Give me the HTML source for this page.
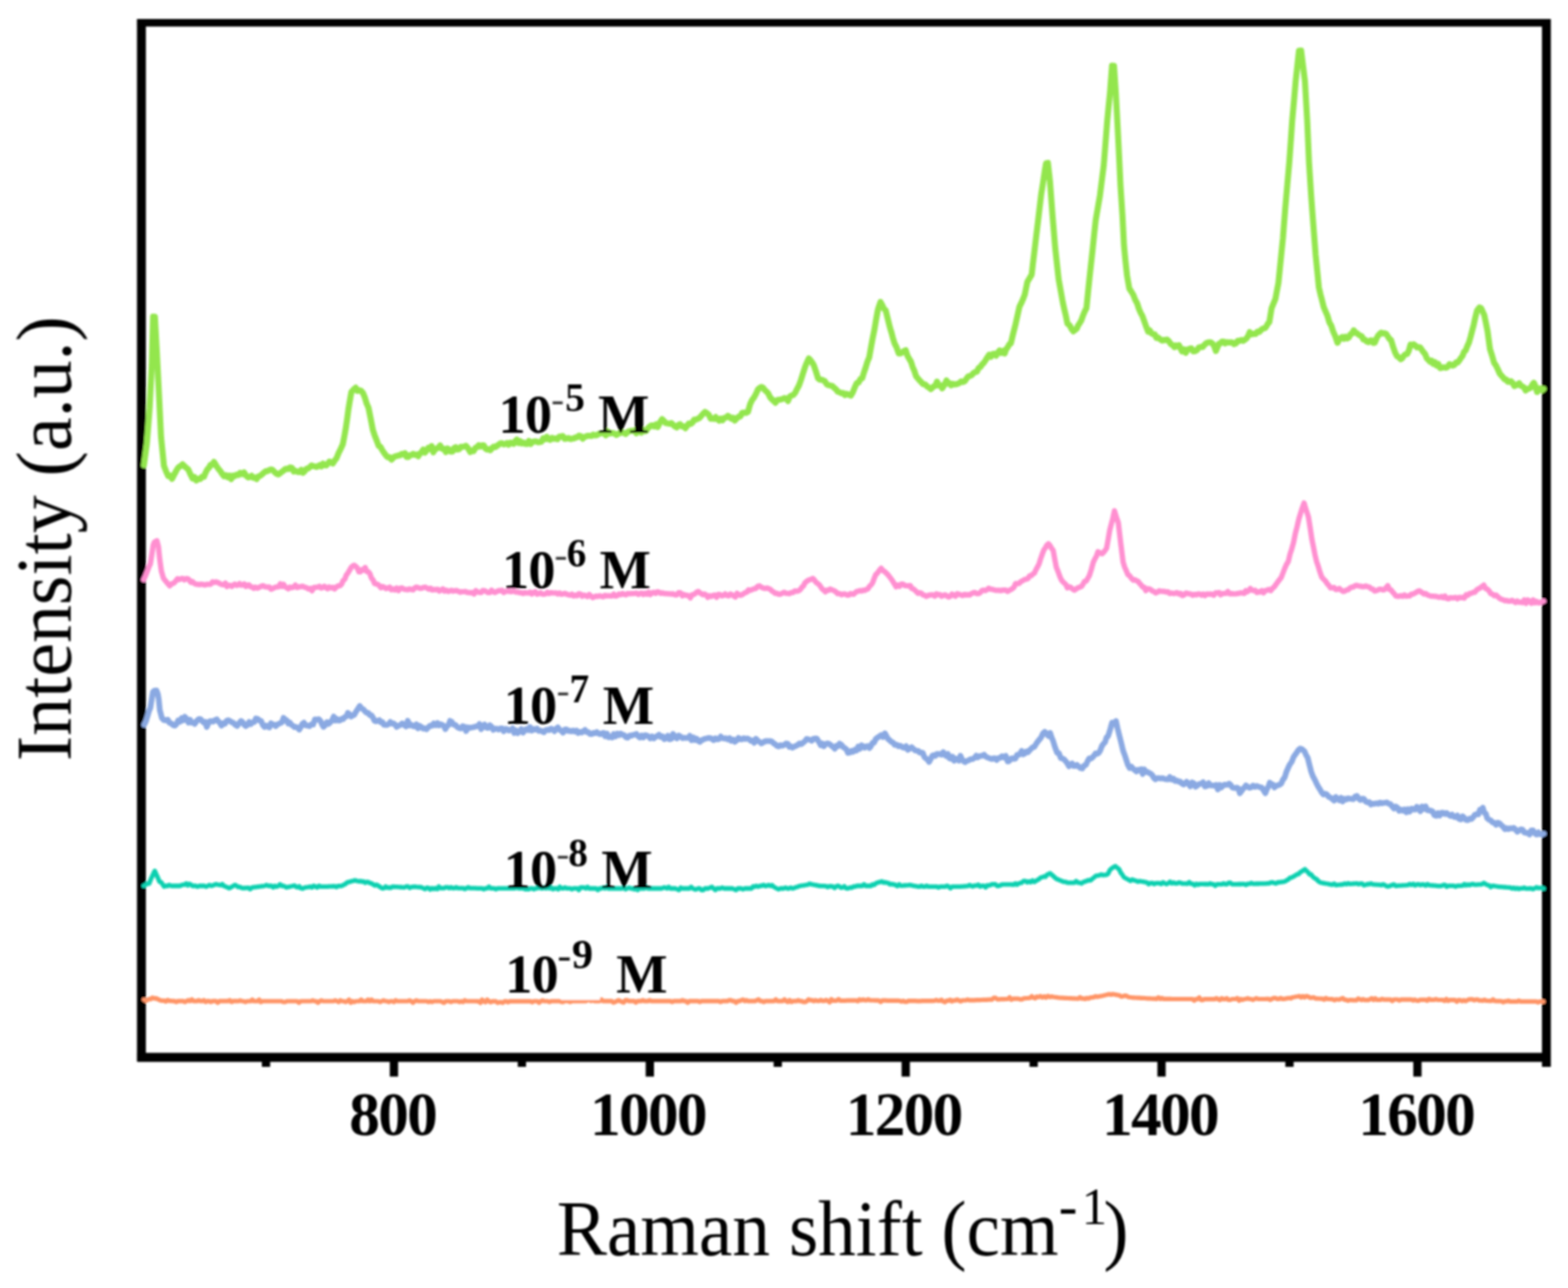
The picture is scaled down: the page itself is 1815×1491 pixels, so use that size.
<!DOCTYPE html>
<html lang="en"><head><meta charset="utf-8"><title>Raman spectra</title>
<style>html,body{margin:0;padding:0;background:#fff}body{width:1815px;height:1491px;overflow:hidden}svg{display:block}</style>
</head><body>
<svg width="1815" height="1491" viewBox="0 0 1815 1491" role="img" aria-label="Raman spectra at different concentrations">
<rect width="1815" height="1491" fill="#fff"/>
<defs><filter id="soft" x="-2%" y="-2%" width="104%" height="104%"><feGaussianBlur stdDeviation="0.8"/></filter></defs>
<g filter="url(#soft)">
<g stroke="#000" fill="none" stroke-linecap="butt">
<line x1="163.7" y1="22.0" x2="163.7" y2="1228.8" stroke-width="10.3"/>
<line x1="1790.0" y1="22.0" x2="1790.0" y2="1235" stroke-width="10.3"/>
<line x1="158.89999999999998" y1="26.4" x2="1794.8" y2="26.4" stroke-width="8.9"/>
<line x1="158.89999999999998" y1="1224.0" x2="1794.8" y2="1224.0" stroke-width="10.3"/>
<line x1="456.0" y1="1224.0" x2="456.0" y2="1246.3" stroke-width="9.6"/>
<line x1="752.2" y1="1224.0" x2="752.2" y2="1246.3" stroke-width="9.6"/>
<line x1="1048.4" y1="1224.0" x2="1048.4" y2="1246.3" stroke-width="9.6"/>
<line x1="1344.5" y1="1224.0" x2="1344.5" y2="1246.3" stroke-width="9.6"/>
<line x1="1640.7" y1="1224.0" x2="1640.7" y2="1246.3" stroke-width="9.6"/>
<line x1="307.9" y1="1224.0" x2="307.9" y2="1235" stroke-width="9.6"/>
<line x1="604.1" y1="1224.0" x2="604.1" y2="1235" stroke-width="9.6"/>
<line x1="900.3" y1="1224.0" x2="900.3" y2="1235" stroke-width="9.6"/>
<line x1="1196.5" y1="1224.0" x2="1196.5" y2="1235" stroke-width="9.6"/>
<line x1="1492.6" y1="1224.0" x2="1492.6" y2="1235" stroke-width="9.6"/>
</g>
<g fill="none" stroke-linejoin="round" stroke-linecap="round">
<path d="M166.6,538.5 L168.2,526.5 L169.9,514.1 L171.6,493.1 L173.2,472.3 L175.7,422.8 L177.2,366.6 L179.3,366.8 L181.5,406.2 L184.0,455.9 L186.4,505.7 L188.1,522.3 L189.8,539.3 L192.2,545.6 L194.7,551.1 L196.9,550.5 L199.1,554.3 L201.3,550.1 L203.2,546.5 L205.2,542.9 L207.1,540.5 L209.2,539.4 L211.3,537.5 L213.5,539.6 L215.7,541.6 L217.9,543.4 L220.4,549.0 L222.9,553.9 L225.1,552.3 L227.3,556.2 L229.5,554.2 L231.7,554.6 L233.9,551.8 L236.1,552.0 L238.0,547.1 L240.0,543.3 L241.9,541.5 L243.8,537.9 L245.8,538.1 L247.7,534.7 L250.2,538.9 L252.7,542.7 L254.9,545.1 L257.1,548.5 L259.3,551.3 L261.4,550.0 L263.5,552.4 L265.5,550.6 L267.6,554.6 L269.7,550.6 L271.8,551.2 L273.8,549.5 L275.9,549.9 L278.1,547.4 L280.3,548.9 L282.5,546.9 L285.0,550.7 L287.5,552.7 L289.4,552.2 L291.3,550.8 L293.2,553.2 L295.2,552.7 L297.1,554.5 L299.0,551.5 L301.1,550.9 L303.2,549.2 L305.3,547.3 L307.4,545.6 L309.4,545.5 L311.5,544.2 L313.6,543.4 L315.6,544.1 L317.8,546.4 L320.1,548.5 L322.3,549.3 L324.2,547.8 L326.2,546.2 L328.1,544.9 L330.0,543.1 L332.0,542.5 L333.9,543.0 L335.9,541.1 L338.0,541.7 L340.1,545.8 L342.1,544.9 L344.3,546.2 L346.6,546.4 L348.8,543.9 L350.8,547.2 L352.8,545.4 L354.7,542.6 L356.7,542.3 L358.7,540.6 L360.6,538.9 L362.5,539.6 L364.4,539.9 L366.3,540.5 L368.2,539.6 L370.1,538.4 L372.0,539.9 L373.9,536.7 L375.8,538.6 L377.7,538.8 L379.5,536.6 L381.4,534.3 L383.3,535.3 L385.2,536.5 L387.4,533.1 L389.6,530.3 L391.8,524.8 L394.3,519.7 L396.8,514.2 L398.5,505.6 L400.1,496.7 L401.8,485.2 L403.4,473.2 L405.0,463.7 L406.7,453.8 L409.2,451.0 L411.7,448.8 L413.8,452.5 L415.9,451.7 L417.9,452.4 L420.0,454.6 L422.2,459.8 L424.4,467.2 L426.6,472.2 L429.1,484.8 L431.6,497.7 L433.8,504.4 L436.1,510.1 L438.3,516.1 L440.4,517.3 L442.5,521.1 L444.5,524.1 L446.6,527.0 L448.8,529.3 L451.0,529.3 L453.2,532.0 L455.2,529.9 L457.2,528.4 L459.1,527.9 L461.1,527.3 L463.1,527.0 L465.0,525.4 L466.9,526.0 L468.8,524.6 L470.7,529.0 L472.6,529.0 L474.5,527.0 L476.4,526.8 L478.3,525.4 L480.3,526.6 L482.2,526.1 L484.1,528.1 L486.1,525.1 L488.0,523.3 L489.9,520.4 L491.9,523.9 L493.8,521.5 L495.7,518.5 L497.7,519.6 L499.6,516.3 L501.6,523.6 L503.6,520.1 L505.5,519.3 L507.5,518.1 L509.5,515.7 L511.7,519.6 L513.9,519.4 L516.1,523.3 L518.0,519.2 L519.9,520.4 L521.8,522.7 L523.7,522.8 L525.6,518.6 L527.5,517.7 L529.4,520.4 L531.4,520.0 L533.4,517.2 L535.3,517.2 L537.3,516.9 L539.3,516.1 L541.8,518.9 L544.3,523.3 L546.3,521.5 L548.3,522.1 L550.2,518.6 L552.2,517.5 L554.2,515.4 L556.1,516.9 L558.0,515.6 L559.9,515.4 L561.8,519.1 L563.7,520.4 L565.6,520.0 L567.5,521.1 L569.4,518.9 L571.4,517.1 L573.3,517.5 L575.2,516.3 L577.2,514.7 L579.1,513.3 L581.0,513.1 L583.0,514.4 L584.9,514.1 L586.8,512.8 L588.8,514.7 L590.7,512.5 L592.6,513.0 L594.5,513.8 L596.4,510.8 L598.2,509.0 L600.1,512.8 L602.0,510.6 L603.9,513.4 L606.0,512.4 L608.0,513.8 L610.1,514.0 L612.2,510.4 L614.3,513.9 L616.4,511.6 L618.4,511.0 L620.5,510.9 L622.6,512.0 L624.6,511.7 L626.7,511.3 L628.8,507.3 L630.9,508.4 L632.9,505.6 L635.0,508.4 L637.0,509.1 L639.1,506.9 L641.2,508.0 L643.2,507.6 L645.3,508.4 L647.4,505.5 L649.5,505.1 L651.5,504.8 L653.6,508.0 L655.8,507.7 L658.0,507.0 L660.2,508.3 L662.2,507.8 L664.2,507.5 L666.2,506.5 L668.2,506.0 L670.2,504.3 L672.3,504.9 L674.4,507.8 L676.4,506.0 L678.5,505.1 L680.6,504.4 L682.6,504.6 L684.7,504.7 L686.8,503.1 L688.8,504.0 L690.9,503.8 L693.0,502.2 L695.0,501.9 L697.1,501.4 L699.1,501.2 L701.2,503.9 L703.3,499.1 L705.4,502.0 L707.5,501.4 L709.5,501.2 L711.6,502.1 L713.7,503.5 L715.8,501.9 L717.9,501.4 L720.0,500.6 L722.1,501.1 L724.1,502.4 L726.2,500.4 L728.3,499.1 L730.4,498.8 L732.5,498.8 L734.5,498.2 L736.6,501.5 L738.5,500.1 L740.4,499.0 L742.3,500.9 L744.1,497.7 L746.0,499.2 L747.9,498.9 L749.8,495.8 L751.7,494.1 L753.7,492.6 L755.6,492.6 L757.5,493.7 L759.5,491.1 L761.4,494.3 L763.9,489.1 L766.4,485.2 L768.6,487.4 L770.8,489.8 L773.0,490.1 L775.1,490.6 L777.1,489.8 L779.2,491.8 L781.3,493.7 L783.3,494.8 L785.3,491.9 L787.2,491.1 L789.2,493.5 L791.2,493.5 L793.3,495.7 L795.4,492.9 L797.4,490.2 L799.5,490.8 L801.5,489.2 L803.5,485.7 L805.4,485.7 L807.4,484.9 L809.4,484.0 L811.6,481.7 L813.9,478.8 L816.1,476.9 L818.3,478.3 L820.5,480.2 L822.7,484.8 L824.6,484.2 L826.6,484.9 L828.5,482.8 L830.4,485.2 L832.4,487.0 L834.3,484.7 L836.4,486.5 L838.5,483.6 L840.5,483.3 L842.6,481.4 L844.6,482.7 L846.6,484.7 L848.5,483.6 L850.5,486.8 L852.5,484.7 L854.7,482.6 L856.9,482.0 L859.1,478.0 L861.3,477.6 L863.6,478.0 L865.8,476.7 L868.2,468.1 L870.7,462.8 L872.9,460.0 L875.2,455.6 L877.4,450.7 L879.5,449.0 L881.5,448.0 L883.4,448.9 L885.2,451.5 L887.1,453.2 L889.0,455.0 L891.2,459.6 L893.4,462.1 L895.6,464.2 L897.7,466.2 L899.8,462.9 L901.8,462.8 L903.9,462.3 L906.0,461.8 L908.0,460.7 L910.0,461.5 L912.1,464.2 L914.2,459.2 L916.2,457.8 L918.3,457.2 L920.4,454.8 L922.6,450.3 L924.9,446.0 L927.1,439.9 L929.5,432.3 L932.0,424.5 L934.1,419.3 L936.2,415.0 L938.1,417.0 L940.1,419.6 L942.0,422.8 L944.5,430.1 L946.9,437.9 L948.9,439.6 L950.9,439.6 L952.9,440.3 L954.9,441.4 L956.9,444.8 L959.1,445.9 L961.3,446.3 L963.5,446.8 L965.6,449.0 L967.6,450.5 L969.7,453.4 L971.8,454.0 L973.9,455.2 L976.0,454.9 L978.0,457.3 L980.1,455.9 L982.5,457.0 L985.0,457.9 L987.2,454.0 L989.5,448.2 L991.7,443.6 L993.8,442.8 L995.9,438.8 L998.0,437.9 L1000.0,431.3 L1002.0,425.5 L1004.1,418.5 L1006.1,413.8 L1008.1,402.6 L1010.1,391.7 L1012.1,382.0 L1014.2,369.4 L1016.2,358.5 L1017.7,353.9 L1019.2,349.6 L1021.2,353.2 L1023.2,357.4 L1025.2,359.1 L1027.7,369.4 L1030.2,379.5 L1031.9,384.9 L1033.6,391.4 L1035.3,397.1 L1037.8,402.1 L1040.3,409.2 L1042.3,409.1 L1044.3,408.0 L1046.4,406.4 L1048.4,405.5 L1050.4,411.8 L1052.4,415.4 L1054.4,418.5 L1056.4,424.8 L1058.4,429.4 L1060.4,435.6 L1062.4,438.0 L1064.5,440.4 L1066.5,442.5 L1068.5,444.8 L1070.8,444.9 L1073.0,447.2 L1075.2,448.6 L1077.5,450.4 L1079.2,448.9 L1080.9,447.2 L1082.6,446.6 L1084.6,441.8 L1086.6,446.2 L1088.6,445.9 L1090.6,449.5 L1093.1,445.6 L1095.6,440.5 L1097.4,443.9 L1099.2,443.5 L1100.9,446.1 L1102.7,444.2 L1104.7,445.1 L1106.7,444.7 L1108.7,444.3 L1110.7,443.2 L1112.7,441.5 L1114.7,442.3 L1116.8,441.1 L1118.8,438.3 L1120.8,435.6 L1122.8,435.3 L1124.8,434.2 L1126.8,431.9 L1128.8,430.6 L1130.8,430.2 L1132.8,426.0 L1134.9,424.7 L1136.9,421.8 L1138.9,419.9 L1140.9,416.9 L1142.9,413.7 L1144.9,410.7 L1146.9,413.1 L1148.9,410.0 L1151.0,409.5 L1153.0,411.8 L1155.0,408.3 L1157.0,405.7 L1159.0,408.5 L1161.0,406.3 L1163.0,409.1 L1164.8,403.9 L1166.5,401.9 L1168.3,398.6 L1170.1,397.5 L1172.6,386.9 L1175.1,377.2 L1177.6,366.0 L1180.1,354.8 L1182.1,351.0 L1184.2,346.3 L1186.2,341.0 L1187.7,333.6 L1189.2,326.3 L1191.7,322.1 L1194.2,317.9 L1195.7,304.7 L1197.2,292.5 L1199.2,275.4 L1201.3,258.2 L1203.3,241.2 L1205.3,224.2 L1207.3,211.7 L1209.3,198.2 L1210.9,188.9 L1213.0,188.6 L1215.4,210.2 L1216.9,230.3 L1218.4,250.3 L1219.9,268.4 L1221.4,286.7 L1223.4,305.0 L1225.4,323.1 L1227.9,337.1 L1230.4,351.0 L1232.1,358.6 L1233.8,365.8 L1235.5,374.4 L1238.0,376.4 L1240.5,381.0 L1242.5,383.5 L1244.5,382.0 L1246.3,380.6 L1248.0,376.7 L1249.8,374.1 L1251.6,371.0 L1253.6,365.3 L1255.6,360.5 L1257.6,356.7 L1259.3,339.6 L1261.0,323.1 L1262.8,306.7 L1264.6,290.1 L1266.4,272.7 L1268.3,254.9 L1270.8,240.4 L1273.2,226.3 L1275.4,208.9 L1277.6,191.7 L1279.6,166.3 L1281.6,140.5 L1283.2,123.9 L1284.9,106.9 L1287.2,76.0 L1289.5,76.2 L1291.6,107.2 L1293.7,147.3 L1295.7,187.5 L1297.0,215.0 L1299.3,249.7 L1301.1,284.7 L1302.8,302.3 L1304.6,319.0 L1307.2,334.0 L1309.5,337.5 L1311.8,341.3 L1314.1,347.2 L1316.1,350.7 L1318.2,357.2 L1320.2,361.9 L1322.4,365.9 L1324.6,372.1 L1326.8,378.3 L1329.0,383.9 L1330.9,382.4 L1332.8,385.7 L1334.7,386.9 L1336.6,386.9 L1338.5,391.1 L1340.2,390.5 L1342.0,391.9 L1343.8,393.5 L1345.5,394.2 L1347.3,393.5 L1349.0,393.7 L1350.8,393.1 L1353.1,395.2 L1355.4,398.4 L1357.7,399.9 L1359.5,401.9 L1361.2,399.9 L1363.0,401.0 L1364.7,399.6 L1366.5,403.2 L1368.2,406.8 L1370.4,404.4 L1372.6,408.4 L1374.7,404.6 L1376.9,403.9 L1379.1,403.2 L1381.2,406.7 L1383.4,406.6 L1385.6,405.3 L1387.8,402.1 L1389.9,401.7 L1392.1,401.7 L1394.3,399.1 L1396.0,397.5 L1397.8,396.6 L1399.5,396.2 L1401.3,396.2 L1403.3,397.6 L1405.4,400.3 L1407.4,406.3 L1409.2,402.2 L1410.9,397.8 L1412.7,397.4 L1414.4,395.4 L1416.4,395.5 L1418.3,397.5 L1420.2,396.1 L1422.2,396.5 L1424.3,396.3 L1426.4,396.5 L1428.5,398.4 L1430.6,397.5 L1432.7,394.4 L1434.9,394.8 L1437.1,393.5 L1439.2,394.6 L1441.4,392.9 L1443.1,391.5 L1444.9,388.6 L1446.6,384.5 L1448.8,387.0 L1451.0,386.5 L1453.2,386.6 L1455.4,384.1 L1457.6,384.3 L1459.8,381.9 L1461.9,380.4 L1464.1,379.9 L1465.8,377.9 L1467.6,374.7 L1469.3,372.8 L1471.9,356.8 L1474.1,351.4 L1476.3,346.1 L1478.0,336.9 L1479.8,327.6 L1482.4,301.8 L1485.0,276.0 L1487.8,240.3 L1490.1,214.0 L1492.4,187.6 L1494.1,164.1 L1495.7,140.4 L1497.8,117.1 L1499.8,93.6 L1501.7,76.1 L1503.6,58.8 L1506.1,58.6 L1508.3,76.3 L1510.5,93.9 L1513.2,140.7 L1515.2,187.6 L1517.8,228.0 L1520.0,257.3 L1522.9,295.1 L1524.8,314.0 L1526.6,332.4 L1528.5,340.8 L1530.3,347.6 L1532.2,355.4 L1534.4,360.6 L1536.6,365.7 L1538.8,373.3 L1541.0,377.0 L1543.2,383.9 L1545.4,388.7 L1548.2,396.8 L1550.1,393.3 L1551.9,391.2 L1553.8,390.1 L1555.7,392.2 L1557.6,389.9 L1559.5,391.8 L1561.4,390.6 L1563.2,387.0 L1565.1,386.1 L1567.0,382.4 L1568.9,385.0 L1570.7,385.8 L1572.6,387.4 L1574.5,388.6 L1576.3,389.3 L1578.2,393.1 L1580.1,393.3 L1582.0,395.3 L1583.9,396.1 L1585.8,394.5 L1587.7,394.0 L1589.5,396.9 L1591.4,396.7 L1593.3,391.9 L1595.1,388.7 L1597.0,386.6 L1598.9,385.1 L1600.8,386.0 L1602.7,385.8 L1604.6,386.5 L1606.5,389.5 L1608.3,392.2 L1610.2,393.8 L1612.6,401.6 L1614.9,408.2 L1617.1,412.4 L1619.2,413.5 L1621.4,415.8 L1623.3,414.5 L1625.2,411.5 L1627.0,410.1 L1628.9,409.8 L1630.8,405.9 L1632.7,398.8 L1634.6,399.6 L1636.4,398.6 L1638.3,400.0 L1640.2,402.2 L1642.0,401.8 L1643.9,402.2 L1645.8,404.9 L1647.7,407.7 L1649.6,409.8 L1651.5,414.7 L1653.4,416.6 L1655.3,418.8 L1657.1,417.5 L1659.0,421.2 L1660.8,419.2 L1662.7,423.0 L1664.8,421.3 L1667.0,426.1 L1669.1,425.7 L1671.2,425.2 L1673.4,425.7 L1675.6,424.7 L1677.8,421.6 L1679.7,422.1 L1681.5,423.2 L1683.4,422.5 L1685.3,419.6 L1687.2,419.6 L1689.0,417.5 L1690.9,414.6 L1692.8,412.2 L1694.7,407.3 L1696.5,405.7 L1698.4,400.8 L1700.3,396.7 L1702.2,390.1 L1704.0,383.1 L1705.9,375.8 L1707.8,367.1 L1709.7,359.5 L1712.5,355.8 L1714.4,356.9 L1716.2,360.6 L1718.1,364.8 L1720.0,374.0 L1721.9,383.5 L1724.7,404.2 L1727.1,411.6 L1729.4,419.9 L1731.6,423.0 L1733.8,427.5 L1736.0,432.5 L1737.9,434.8 L1739.8,436.7 L1741.6,439.2 L1743.5,439.2 L1745.4,442.0 L1747.3,442.1 L1749.1,441.3 L1751.0,443.3 L1752.9,446.9 L1754.8,446.1 L1756.6,445.3 L1758.5,443.7 L1760.3,446.5 L1762.2,447.2 L1764.1,448.6 L1766.0,452.0 L1767.8,450.2 L1769.7,450.0 L1771.6,449.0 L1773.5,445.8 L1775.4,443.1 L1777.3,446.8 L1779.2,453.8 L1781.1,450.1 L1783.0,449.6 L1784.8,451.8 L1786.7,450.1" stroke="#93e64e" stroke-width="7.0"/>
<path d="M166.3,671.0 L168.4,666.5 L170.5,661.2 L172.3,656.6 L174.1,652.5 L176.0,640.2 L177.4,630.9 L178.8,627.4 L181.6,626.0 L183.4,632.7 L184.8,646.8 L186.8,661.2 L189.2,669.4 L191.3,672.1 L193.5,674.7 L195.0,676.5 L196.5,678.1 L198.9,675.7 L201.3,675.0 L203.4,672.7 L205.5,670.0 L207.4,670.9 L209.4,670.0 L211.3,669.5 L213.3,671.3 L215.2,669.8 L217.1,669.8 L218.9,671.2 L220.8,674.1 L222.7,673.2 L224.5,675.0 L226.4,676.1 L228.6,676.4 L230.8,676.8 L232.9,676.2 L235.1,676.6 L237.3,677.2 L239.5,676.3 L241.7,676.5 L243.8,676.4 L246.0,673.6 L248.2,674.2 L250.4,673.6 L252.6,674.5 L254.7,675.7 L256.9,676.7 L259.1,677.0 L260.9,675.0 L262.7,679.0 L264.6,677.6 L266.4,677.5 L268.2,678.9 L270.0,677.3 L271.8,676.2 L273.7,677.6 L275.5,677.2 L277.3,675.6 L279.1,677.4 L280.9,677.2 L282.8,675.9 L284.6,678.8 L286.4,677.6 L288.2,677.1 L290.0,679.2 L291.9,679.6 L293.7,681.0 L295.5,679.6 L297.8,680.9 L300.0,679.9 L302.2,678.8 L304.5,678.0 L306.3,679.1 L308.1,679.4 L310.0,679.6 L311.8,679.5 L313.6,682.1 L315.8,681.3 L318.0,680.1 L320.1,679.5 L322.3,679.4 L324.5,675.8 L326.3,678.8 L328.2,676.5 L330.0,679.4 L331.8,680.4 L333.7,681.5 L335.5,679.6 L337.6,680.3 L339.7,679.7 L341.9,677.4 L344.0,680.2 L346.1,679.3 L348.2,679.2 L350.4,678.6 L352.6,679.8 L354.7,680.3 L356.9,681.8 L359.1,681.2 L361.2,683.9 L363.3,680.0 L365.5,679.8 L367.6,679.7 L369.7,678.7 L371.8,680.7 L373.6,680.1 L375.4,678.7 L377.3,680.3 L379.1,681.6 L380.9,679.5 L383.0,680.6 L385.1,679.8 L387.2,681.7 L389.4,679.5 L391.5,678.3 L393.6,677.9 L395.4,676.2 L397.2,672.1 L399.1,670.5 L400.9,665.6 L402.7,663.3 L404.6,660.2 L406.4,656.9 L408.2,655.3 L410.0,654.3 L411.8,655.7 L413.7,657.7 L415.5,662.0 L417.3,661.8 L419.1,659.4 L420.9,659.9 L422.7,657.0 L424.5,661.6 L426.4,661.9 L428.2,664.2 L430.0,669.2 L431.8,671.3 L433.6,675.5 L435.4,675.9 L437.2,676.4 L439.1,678.0 L440.9,680.3 L442.9,679.0 L444.9,679.9 L447.0,681.3 L449.0,680.7 L451.0,679.8 L453.0,682.7 L455.1,681.6 L457.1,683.0 L459.1,680.8 L461.3,683.7 L463.5,680.9 L465.6,680.7 L467.8,682.2 L470.0,682.4 L472.0,682.7 L474.0,681.6 L476.1,682.4 L478.1,682.8 L480.1,680.6 L482.1,679.7 L484.2,680.3 L486.2,681.1 L488.2,680.9 L490.2,680.0 L492.2,679.7 L494.3,680.9 L496.3,682.1 L498.3,680.9 L500.3,683.0 L502.4,682.4 L504.4,682.7 L506.4,682.1 L508.4,684.2 L510.4,683.1 L512.5,681.8 L514.5,684.2 L516.5,683.1 L518.5,684.7 L520.5,684.0 L522.5,683.4 L524.5,684.3 L526.6,683.8 L528.6,683.7 L530.6,684.6 L532.6,685.6 L534.6,685.0 L536.7,685.0 L538.7,684.7 L540.7,685.9 L542.7,685.8 L544.7,686.4 L546.7,685.8 L548.8,687.5 L550.8,683.8 L552.8,685.2 L554.8,685.7 L556.9,686.0 L558.9,683.6 L560.9,683.8 L562.9,684.9 L564.9,686.0 L567.0,686.0 L569.0,683.3 L571.0,684.9 L573.0,685.9 L575.1,684.7 L577.1,683.6 L579.1,683.8 L581.1,683.3 L583.1,685.9 L585.2,684.6 L587.2,684.5 L589.2,684.2 L591.2,685.0 L593.3,684.4 L595.3,684.4 L597.3,685.5 L599.3,685.4 L601.3,686.2 L603.4,686.0 L605.4,687.1 L607.4,686.0 L609.4,686.4 L611.5,686.5 L613.5,685.5 L615.5,687.6 L617.5,685.9 L619.5,685.0 L621.5,687.8 L623.6,687.3 L625.6,686.1 L627.6,687.7 L629.6,687.8 L631.6,687.5 L633.6,685.7 L635.7,687.1 L637.7,686.0 L639.7,686.4 L641.7,686.5 L643.7,686.3 L645.8,687.7 L647.8,686.5 L649.8,687.9 L651.8,687.5 L653.8,686.9 L655.8,687.8 L657.9,688.5 L659.9,689.0 L661.9,687.8 L663.9,689.9 L666.0,688.9 L668.0,689.7 L670.0,687.4 L672.0,687.8 L674.0,690.2 L676.1,688.9 L678.1,689.7 L680.1,690.6 L682.1,688.2 L684.2,690.2 L686.2,691.8 L688.2,690.8 L690.2,690.0 L692.2,690.4 L694.2,689.7 L696.3,690.4 L698.3,690.8 L700.3,689.2 L702.3,689.9 L704.3,689.5 L706.4,689.9 L708.4,689.9 L710.4,687.9 L712.4,690.0 L714.4,689.6 L716.4,687.6 L718.5,688.3 L720.5,687.0 L722.5,688.1 L724.5,688.6 L726.5,687.0 L728.5,687.3 L730.6,687.1 L732.6,687.2 L734.6,687.0 L736.6,686.6 L738.7,688.1 L740.7,687.2 L742.7,686.5 L744.7,688.2 L746.7,686.6 L748.8,687.9 L750.8,685.7 L752.8,688.2 L754.8,686.3 L756.9,685.7 L758.9,686.9 L760.9,685.1 L762.9,685.5 L764.9,686.9 L767.0,686.3 L769.0,687.2 L771.0,687.1 L773.0,687.3 L775.1,687.3 L777.1,687.9 L779.1,687.3 L781.3,688.6 L783.5,688.6 L785.6,686.0 L787.8,686.4 L790.0,689.7 L791.8,688.2 L793.6,689.1 L795.5,689.2 L797.3,689.9 L799.1,692.1 L800.9,688.6 L802.7,688.3 L804.6,687.3 L806.4,685.6 L808.2,684.7 L810.0,686.2 L811.8,687.3 L813.7,688.5 L815.5,687.6 L817.3,688.6 L819.3,691.5 L821.3,689.7 L823.4,690.5 L825.4,689.2 L827.4,688.8 L829.4,691.5 L831.5,688.1 L833.5,688.4 L835.5,689.8 L837.5,689.2 L839.4,687.5 L841.4,689.3 L843.4,689.9 L845.3,687.6 L847.3,688.6 L849.3,689.9 L851.2,691.1 L853.2,686.8 L855.2,688.4 L857.1,689.2 L859.1,688.4 L860.9,687.1 L862.8,686.0 L864.6,685.4 L866.4,682.8 L868.5,683.4 L870.6,682.5 L872.8,681.6 L874.9,681.3 L877.0,678.7 L879.1,678.2 L881.3,679.8 L883.5,680.7 L885.6,681.2 L887.8,680.7 L890.0,681.5 L891.8,682.3 L893.6,684.3 L895.5,685.3 L897.3,686.9 L899.3,686.9 L901.4,687.9 L903.4,687.8 L905.5,686.8 L907.5,685.7 L909.5,686.6 L911.6,687.0 L913.6,687.2 L915.7,686.0 L917.9,685.9 L920.0,684.0 L922.1,684.5 L924.3,684.0 L926.4,682.5 L928.2,679.8 L930.0,678.4 L931.8,674.7 L933.6,673.2 L935.4,671.8 L937.2,671.1 L939.1,670.5 L940.9,669.6 L942.7,671.5 L944.6,674.2 L946.4,675.4 L948.2,676.7 L950.0,679.3 L951.8,681.9 L953.6,683.3 L955.4,685.1 L957.2,683.2 L959.1,683.5 L960.9,681.9 L963.1,682.8 L965.3,683.8 L967.4,685.0 L969.6,687.2 L971.8,687.1 L974.0,688.5 L976.2,687.7 L978.3,687.5 L980.5,688.9 L982.7,688.8 L984.5,687.1 L986.3,687.7 L988.2,687.9 L990.0,686.1 L991.8,684.5 L993.6,684.5 L995.4,683.7 L997.3,684.2 L999.1,683.2 L1000.9,683.5 L1002.7,682.4 L1004.5,681.8 L1006.4,678.8 L1008.2,677.2 L1010.0,674.7 L1011.8,669.9 L1013.6,665.3 L1015.7,663.4 L1017.9,660.1 L1020.0,657.9 L1022.0,660.5 L1024.1,661.7 L1026.2,663.8 L1028.2,665.8 L1030.0,668.1 L1031.8,670.5 L1033.7,673.4 L1035.5,676.4 L1037.3,679.2 L1039.4,677.3 L1041.4,678.7 L1043.5,676.0 L1045.6,676.4 L1047.7,678.0 L1049.7,678.0 L1051.8,678.4 L1053.6,677.8 L1055.4,681.2 L1057.3,681.7 L1059.1,683.3 L1060.9,685.1 L1062.7,686.9 L1064.6,686.2 L1066.4,686.8 L1068.2,688.6 L1070.2,689.0 L1072.2,690.3 L1074.1,689.5 L1076.1,688.8 L1078.1,688.6 L1080.1,688.7 L1082.1,690.1 L1084.1,687.5 L1086.0,688.4 L1088.0,688.3 L1090.0,690.3 L1092.0,689.3 L1094.0,688.5 L1096.0,689.9 L1098.0,691.1 L1100.0,690.2 L1102.0,687.8 L1104.0,688.9 L1106.0,690.3 L1108.0,687.3 L1110.0,687.9 L1112.0,688.6 L1114.1,689.4 L1116.2,688.0 L1118.2,688.8 L1120.2,688.4 L1122.3,688.8 L1124.4,687.2 L1126.4,686.2 L1128.4,685.8 L1130.4,687.1 L1132.4,687.2 L1134.4,686.2 L1136.5,683.8 L1138.5,683.1 L1140.5,683.7 L1142.5,682.6 L1144.5,681.0 L1146.5,682.2 L1148.5,682.1 L1150.4,682.8 L1152.4,683.4 L1154.4,683.3 L1156.3,683.4 L1158.3,683.8 L1160.3,683.2 L1162.3,683.0 L1164.2,683.1 L1166.2,684.7 L1168.2,683.4 L1170.0,682.5 L1171.8,681.5 L1173.7,679.9 L1175.5,675.7 L1177.3,675.6 L1179.5,675.4 L1181.7,673.3 L1183.8,672.2 L1186.0,670.7 L1188.2,670.4 L1190.0,669.5 L1191.8,666.7 L1193.7,666.5 L1195.5,664.5 L1197.3,663.6 L1199.1,659.5 L1200.9,656.4 L1202.7,652.8 L1204.5,647.0 L1206.4,641.6 L1208.2,636.8 L1210.0,634.3 L1211.8,631.1 L1213.6,629.5 L1215.4,631.6 L1217.3,634.9 L1219.1,637.2 L1220.9,647.2 L1222.7,656.6 L1224.5,661.0 L1226.4,666.3 L1228.2,670.6 L1230.0,673.1 L1231.8,674.9 L1233.7,676.5 L1235.5,680.5 L1237.5,679.3 L1239.5,679.9 L1241.6,681.9 L1243.6,683.2 L1245.6,681.8 L1247.7,680.4 L1249.8,679.7 L1251.8,678.8 L1253.6,676.4 L1255.4,673.0 L1257.3,672.7 L1259.1,669.5 L1260.9,666.5 L1263.2,659.4 L1265.5,650.9 L1267.3,647.1 L1269.1,643.9 L1270.9,638.7 L1273.2,640.0 L1275.5,641.0 L1277.3,639.5 L1279.1,637.3 L1280.9,634.6 L1282.7,624.5 L1284.5,614.0 L1286.3,607.0 L1288.2,599.7 L1290.0,591.4 L1292.2,598.5 L1294.5,605.3 L1297.3,629.1 L1300.0,650.6 L1301.8,656.5 L1303.7,660.6 L1305.5,665.2 L1307.6,666.5 L1309.7,669.5 L1311.8,671.6 L1313.6,671.0 L1315.5,672.3 L1317.3,672.9 L1319.1,675.3 L1320.9,677.2 L1322.7,679.6 L1324.5,679.9 L1326.3,683.7 L1328.1,681.6 L1330.0,681.6 L1331.8,682.3 L1333.6,684.0 L1335.6,684.6 L1337.7,686.4 L1339.8,685.5 L1341.8,683.9 L1343.8,684.5 L1345.9,684.6 L1348.0,684.7 L1350.0,685.4 L1352.1,685.2 L1354.1,687.1 L1356.2,686.6 L1358.3,687.1 L1360.4,686.7 L1362.4,686.0 L1364.5,687.7 L1366.5,687.0 L1368.5,689.4 L1370.6,688.8 L1372.6,686.5 L1374.6,686.9 L1376.6,687.4 L1378.7,687.8 L1380.7,689.2 L1382.7,688.0 L1384.7,688.6 L1386.7,687.7 L1388.8,687.7 L1390.8,689.0 L1392.8,687.7 L1394.8,689.5 L1396.9,687.5 L1398.9,687.8 L1400.9,687.7 L1402.9,687.9 L1404.9,689.0 L1407.0,686.4 L1409.0,686.4 L1411.0,685.9 L1413.0,688.5 L1415.1,687.1 L1417.1,687.0 L1419.1,686.9 L1421.3,684.9 L1423.5,687.5 L1425.6,687.1 L1427.8,687.5 L1430.0,687.5 L1432.0,687.1 L1434.1,686.9 L1436.1,686.3 L1438.2,686.4 L1440.2,686.9 L1442.0,683.8 L1443.8,685.0 L1445.5,683.8 L1447.3,681.3 L1449.2,683.3 L1451.0,683.6 L1452.9,683.4 L1454.8,685.8 L1456.6,685.1 L1458.5,685.3 L1460.5,683.7 L1462.6,686.1 L1464.6,683.8 L1466.7,683.3 L1468.7,682.3 L1470.8,683.7 L1472.8,681.2 L1474.8,679.6 L1476.9,676.6 L1478.9,673.9 L1481.0,671.1 L1483.0,668.7 L1485.0,663.5 L1487.1,658.0 L1489.2,653.2 L1491.2,650.1 L1493.2,641.6 L1495.3,635.2 L1497.3,628.2 L1499.3,617.9 L1501.4,609.8 L1503.4,601.0 L1505.4,594.4 L1507.5,587.8 L1509.5,582.3 L1511.2,588.4 L1512.9,593.2 L1514.6,598.7 L1516.7,612.0 L1518.7,625.2 L1520.4,633.4 L1522.1,642.1 L1523.8,649.4 L1525.8,655.2 L1527.9,662.3 L1529.9,667.9 L1531.9,670.3 L1534.0,672.2 L1536.0,675.3 L1538.1,677.6 L1540.1,680.6 L1542.1,680.5 L1544.2,680.1 L1546.2,682.3 L1548.2,682.3 L1550.3,681.2 L1552.3,683.1 L1554.4,684.6 L1556.4,684.4 L1558.4,683.1 L1560.5,682.8 L1562.5,680.8 L1564.5,679.7 L1566.6,679.6 L1568.6,678.1 L1570.6,677.6 L1572.7,678.4 L1574.8,678.5 L1576.8,679.2 L1578.9,679.2 L1580.9,678.3 L1582.9,679.2 L1585.0,679.5 L1587.0,681.4 L1589.1,682.0 L1591.1,684.1 L1593.0,683.7 L1594.9,683.1 L1596.8,682.1 L1598.8,682.1 L1600.7,682.8 L1602.6,682.6 L1604.5,680.2 L1606.4,678.0 L1608.3,682.4 L1610.1,682.7 L1612.0,685.4 L1613.9,687.4 L1615.7,689.8 L1617.6,690.4 L1619.6,690.2 L1621.7,689.6 L1623.7,690.3 L1625.7,688.7 L1627.8,690.2 L1629.8,689.8 L1631.7,689.9 L1633.6,687.8 L1635.5,687.6 L1637.3,686.8 L1639.2,685.9 L1641.1,684.4 L1643.0,683.9 L1644.8,685.3 L1646.7,686.4 L1648.5,687.6 L1650.4,687.1 L1652.2,688.6 L1654.2,689.4 L1656.3,690.1 L1658.3,690.0 L1660.4,690.4 L1662.4,690.4 L1664.5,691.2 L1666.5,691.4 L1668.6,690.5 L1670.6,691.9 L1672.6,690.1 L1674.7,692.8 L1676.7,693.1 L1678.7,691.8 L1680.8,692.2 L1682.8,692.1 L1684.9,691.6 L1686.9,693.2 L1688.9,691.5 L1691.0,691.9 L1693.0,691.5 L1695.0,692.3 L1697.1,688.5 L1699.1,689.1 L1701.1,687.1 L1703.2,686.7 L1705.2,685.7 L1707.2,685.6 L1709.3,682.9 L1711.3,681.6 L1713.4,680.7 L1715.5,678.9 L1717.5,677.3 L1719.5,681.2 L1721.5,681.9 L1723.6,683.9 L1725.6,687.3 L1727.6,687.7 L1729.7,689.6 L1731.8,688.8 L1733.8,690.9 L1735.9,692.7 L1737.9,693.7 L1739.9,694.4 L1742.0,695.3 L1744.0,695.1 L1746.0,695.9 L1748.1,695.9 L1750.1,694.9 L1752.1,696.1 L1754.2,697.5 L1756.2,695.7 L1758.2,697.1 L1760.3,697.0 L1762.3,697.6 L1764.4,694.6 L1766.4,698.4 L1768.4,694.5 L1770.5,695.9 L1772.5,698.3 L1774.6,694.4 L1776.6,697.8 L1778.6,696.1 L1780.7,697.8 L1782.7,697.6 L1784.8,696.6 L1786.8,695.9" stroke="#ff8fd0" stroke-width="6.2"/>
<path d="M166.9,839.0 L169.0,834.7 L171.1,827.8 L172.6,822.7 L174.1,819.3 L175.8,808.2 L177.0,801.2 L178.6,799.6 L181.2,799.4 L182.8,803.7 L183.8,810.0 L185.0,822.1 L187.4,831.1 L189.8,833.6 L192.2,834.0 L194.2,833.1 L196.3,836.9 L198.3,837.4 L200.3,839.4 L202.3,840.0 L204.3,838.2 L206.3,833.9 L208.4,835.4 L210.4,831.3 L212.2,833.9 L214.0,829.8 L216.1,832.4 L218.2,836.6 L220.0,833.2 L221.8,836.6 L223.6,836.2 L225.4,838.0 L227.9,834.3 L230.3,832.3 L232.1,832.5 L233.9,834.6 L235.7,836.3 L237.5,835.6 L239.3,841.5 L241.1,837.7 L242.9,834.8 L244.8,834.8 L246.6,835.4 L249.1,833.5 L250.9,832.7 L252.8,835.2 L254.6,837.0 L256.4,840.0 L258.4,837.2 L260.4,837.8 L262.4,834.4 L264.4,833.7 L266.4,834.8 L268.4,836.2 L270.4,836.9 L272.5,839.2 L274.5,840.4 L276.8,837.1 L279.1,834.6 L280.9,836.0 L282.7,839.0 L284.5,840.5 L286.5,839.2 L288.4,835.7 L290.4,838.1 L292.3,836.4 L294.3,835.9 L296.2,831.6 L298.2,832.1 L300.2,834.0 L302.2,834.4 L304.2,839.3 L306.2,841.5 L308.2,840.0 L310.0,841.4 L311.8,842.0 L313.7,837.2 L315.5,838.9 L317.3,838.9 L319.1,840.6 L320.9,838.8 L322.7,837.9 L324.5,837.1 L326.4,836.1 L328.2,831.0 L330.0,833.0 L331.8,833.6 L333.7,837.6 L335.5,836.5 L337.3,839.1 L339.1,840.1 L340.9,841.7 L342.8,841.6 L344.6,842.4 L346.4,844.6 L348.2,841.5 L350.0,837.9 L351.8,836.6 L353.9,839.8 L356.1,840.0 L358.2,840.6 L360.3,838.5 L362.4,838.8 L364.5,832.8 L366.8,833.2 L369.1,832.5 L370.9,834.4 L372.7,838.5 L374.5,841.4 L376.5,839.4 L378.5,835.9 L380.5,837.9 L382.5,836.0 L384.5,833.6 L386.3,829.5 L388.1,834.1 L390.0,832.3 L391.8,834.1 L393.6,833.9 L395.4,832.1 L397.2,832.5 L399.1,829.9 L400.9,829.6 L402.7,825.2 L404.5,826.7 L406.4,829.5 L408.2,828.4 L410.0,827.5 L412.1,823.9 L414.3,820.5 L416.4,817.3 L418.5,820.0 L420.6,821.2 L422.7,823.7 L424.5,825.1 L426.4,825.3 L428.2,827.9 L430.0,828.1 L431.8,830.8 L433.6,834.4 L435.4,835.0 L437.2,834.3 L439.1,833.7 L440.9,836.3 L442.7,835.9 L444.5,839.0 L446.4,839.2 L448.2,839.1 L450.0,838.0 L451.8,835.8 L453.6,837.7 L455.5,837.4 L457.3,838.7 L459.1,841.5 L461.3,840.2 L463.5,839.1 L465.6,837.4 L467.8,839.1 L470.0,840.9 L472.0,834.4 L474.0,839.8 L476.0,838.9 L478.0,840.6 L480.0,841.0 L481.9,838.4 L483.9,843.1 L485.8,840.3 L487.8,841.5 L489.7,843.4 L491.7,843.0 L493.6,844.2 L495.7,841.9 L497.9,840.0 L500.0,840.2 L502.1,837.5 L504.3,839.5 L506.4,837.0 L508.2,839.7 L510.0,838.3 L511.9,839.0 L513.7,840.4 L515.5,844.1 L517.3,840.7 L519.1,839.5 L520.9,834.5 L523.0,835.7 L525.1,839.0 L527.2,839.2 L529.4,841.7 L531.5,842.9 L533.6,843.4 L535.6,840.7 L537.5,841.2 L539.5,846.3 L541.4,842.0 L543.4,842.7 L545.3,842.3 L547.2,841.9 L549.2,841.6 L551.1,840.8 L553.1,840.7 L555.0,838.1 L557.0,844.1 L558.9,841.0 L560.9,838.8 L562.9,842.2 L564.9,842.7 L567.0,839.5 L569.0,841.2 L571.0,844.8 L573.0,843.5 L575.1,843.6 L577.1,844.7 L579.1,843.2 L581.1,843.1 L583.1,846.5 L585.2,843.8 L587.2,844.3 L589.2,845.7 L591.2,845.0 L593.3,843.2 L595.3,848.5 L597.3,845.6 L599.3,848.7 L601.3,846.4 L603.3,844.0 L605.4,848.1 L607.4,845.1 L609.4,843.9 L611.4,845.2 L613.4,841.6 L615.5,845.9 L617.5,843.9 L619.5,844.6 L621.5,843.5 L623.5,846.1 L625.5,845.5 L627.5,846.7 L629.6,847.6 L631.6,845.2 L633.6,844.8 L635.6,845.3 L637.6,843.5 L639.7,844.1 L641.7,846.4 L643.7,843.8 L645.7,842.1 L647.8,844.9 L649.8,846.0 L651.8,848.1 L653.8,844.6 L655.7,844.4 L657.6,846.2 L659.6,845.9 L661.5,846.7 L663.5,845.6 L665.5,846.9 L667.4,845.7 L669.4,848.5 L671.3,847.4 L673.2,848.0 L675.2,846.5 L677.1,844.9 L679.1,847.5 L681.1,847.6 L683.0,849.7 L685.0,849.8 L686.9,848.4 L688.9,848.7 L690.8,847.4 L692.8,849.2 L694.7,849.9 L696.6,849.1 L698.6,848.3 L700.5,852.3 L702.5,849.1 L704.4,853.5 L706.4,853.0 L708.4,853.8 L710.4,849.8 L712.5,852.4 L714.5,849.1 L716.5,851.0 L718.5,849.1 L720.5,850.5 L722.5,851.0 L724.5,853.6 L726.6,853.9 L728.6,851.5 L730.6,851.8 L732.6,850.8 L734.6,850.5 L736.7,849.6 L738.7,852.3 L740.7,853.8 L742.7,851.6 L744.7,853.6 L746.7,851.1 L748.8,851.5 L750.8,852.4 L752.8,854.8 L754.8,852.6 L756.9,854.8 L758.9,853.1 L760.9,851.9 L762.9,850.5 L764.9,853.2 L767.0,852.4 L769.0,855.7 L771.0,855.0 L773.0,851.6 L775.1,855.9 L777.1,855.4 L779.1,849.7 L781.3,852.7 L783.5,854.7 L785.6,851.5 L787.8,852.7 L790.0,854.6 L792.1,854.0 L794.2,854.2 L796.4,854.3 L798.5,851.7 L800.6,856.9 L802.7,853.6 L804.5,856.7 L806.4,855.2 L808.2,857.6 L810.0,858.9 L811.8,857.0 L813.6,856.4 L815.5,855.2 L817.3,854.9 L819.5,854.4 L821.7,854.2 L823.8,855.1 L826.0,856.8 L828.2,854.7 L830.2,855.9 L832.3,855.5 L834.3,852.6 L836.4,854.6 L838.4,854.9 L840.4,854.6 L842.5,856.1 L844.5,854.5 L846.5,857.6 L848.6,856.1 L850.6,858.7 L852.7,857.1 L854.8,854.3 L856.8,855.7 L858.9,855.9 L860.9,854.5 L862.9,855.5 L864.9,854.8 L867.0,855.7 L869.0,857.6 L871.0,857.1 L873.0,859.9 L875.1,855.2 L877.1,857.6 L879.1,858.6 L881.3,860.6 L883.5,859.4 L885.6,858.1 L887.8,857.7 L890.0,858.0 L891.8,857.9 L893.6,858.6 L895.5,860.6 L897.3,861.3 L899.1,863.4 L901.3,864.1 L903.5,862.5 L905.6,863.3 L907.8,862.3 L910.0,860.6 L911.8,861.0 L913.6,864.6 L915.5,863.9 L917.3,865.5 L919.1,864.4 L921.2,863.4 L923.3,862.5 L925.5,860.5 L927.6,861.5 L929.7,859.8 L931.8,857.9 L933.8,855.4 L935.7,855.8 L937.7,856.5 L939.6,857.5 L941.6,855.3 L943.5,854.9 L945.5,855.1 L947.8,858.7 L950.0,862.6 L951.8,860.7 L953.6,863.9 L955.5,861.6 L957.3,860.5 L959.1,860.8 L960.9,861.8 L962.7,863.5 L964.5,864.7 L966.3,866.7 L968.1,863.4 L970.0,864.0 L971.8,860.8 L973.8,862.0 L975.7,864.7 L977.7,865.9 L979.7,867.4 L981.6,871.6 L983.6,871.3 L985.6,869.2 L987.5,870.3 L989.5,867.8 L991.4,868.9 L993.4,864.3 L995.3,866.9 L997.3,862.8 L999.1,863.8 L1000.9,865.6 L1002.8,864.0 L1004.6,863.6 L1006.4,865.9 L1008.2,863.6 L1010.0,859.9 L1011.8,859.8 L1013.6,855.6 L1015.7,853.9 L1017.9,852.5 L1020.0,851.0 L1022.1,853.1 L1024.3,849.0 L1026.4,852.7 L1028.2,855.7 L1030.0,857.0 L1031.8,858.8 L1033.6,859.6 L1035.8,862.3 L1038.0,862.1 L1040.1,863.9 L1042.3,863.2 L1044.5,865.0 L1046.6,865.6 L1048.8,863.8 L1050.9,868.0 L1053.0,866.5 L1055.2,865.0 L1057.3,866.9 L1059.1,868.5 L1060.9,869.0 L1062.8,869.2 L1064.6,871.3 L1066.4,871.0 L1068.2,871.7 L1070.0,876.4 L1071.9,878.1 L1073.7,879.4 L1075.5,882.0 L1077.3,878.7 L1079.1,874.8 L1080.9,874.1 L1082.7,875.1 L1084.5,872.7 L1086.3,872.7 L1088.2,873.0 L1090.0,873.6 L1091.8,870.6 L1093.6,873.7 L1095.4,875.2 L1097.3,872.8 L1099.1,877.8 L1100.9,878.4 L1102.7,876.1 L1104.5,880.6 L1106.4,878.4 L1108.2,878.6 L1110.0,880.4 L1111.8,874.9 L1113.6,879.2 L1115.5,881.3 L1117.3,882.3 L1119.1,880.8 L1121.3,880.1 L1123.5,878.7 L1125.6,878.8 L1127.8,877.5 L1130.0,874.8 L1131.8,876.7 L1133.6,875.3 L1135.5,875.2 L1137.3,874.6 L1139.1,873.7 L1140.9,875.8 L1142.8,876.7 L1144.6,877.5 L1146.4,878.2 L1148.2,878.6 L1150.0,877.9 L1151.9,877.8 L1153.7,879.8 L1155.5,877.7 L1157.7,877.2 L1159.9,875.3 L1162.0,876.8 L1164.2,875.1 L1166.4,881.5 L1168.2,881.0 L1170.0,878.3 L1171.9,877.7 L1173.7,878.5 L1175.5,878.0 L1177.3,873.8 L1179.1,873.8 L1180.9,872.1 L1182.7,869.2 L1184.5,873.3 L1186.3,872.2 L1188.2,869.9 L1190.0,870.8 L1191.8,868.5 L1193.7,866.7 L1195.5,865.0 L1197.3,864.7 L1199.1,861.5 L1200.9,858.9 L1202.7,856.7 L1205.0,853.9 L1207.3,849.0 L1209.3,847.2 L1211.4,849.3 L1213.5,851.9 L1215.5,848.4 L1217.3,853.8 L1219.1,858.1 L1221.3,865.3 L1223.6,871.3 L1225.7,872.0 L1227.9,877.5 L1230.0,878.2 L1231.8,879.0 L1233.7,881.3 L1235.5,883.7 L1237.3,887.0 L1239.1,884.8 L1240.9,883.8 L1242.7,886.8 L1244.5,886.8 L1246.5,885.4 L1248.6,887.4 L1250.7,889.1 L1252.7,889.6 L1254.8,886.4 L1257.0,885.5 L1259.1,880.7 L1260.9,877.9 L1262.8,878.3 L1264.6,876.8 L1266.4,874.6 L1268.2,872.1 L1270.0,872.6 L1271.8,871.6 L1273.6,868.7 L1275.5,863.5 L1277.3,861.1 L1279.1,859.2 L1280.9,853.6 L1282.7,852.1 L1285.0,844.7 L1287.3,836.5 L1289.5,838.0 L1291.8,834.7 L1293.7,843.5 L1295.5,850.8 L1297.8,859.8 L1300.0,869.0 L1301.8,873.8 L1303.7,879.6 L1305.5,885.2 L1307.5,889.0 L1309.5,887.5 L1311.6,889.9 L1313.6,891.5 L1315.4,893.1 L1317.2,891.0 L1319.1,891.9 L1320.9,890.4 L1322.7,896.0 L1324.5,890.7 L1326.4,893.8 L1328.2,893.5 L1330.0,894.7 L1331.8,895.5 L1333.7,897.2 L1335.5,900.4 L1337.3,902.2 L1339.4,900.8 L1341.5,900.7 L1343.7,901.2 L1345.8,900.8 L1347.9,901.7 L1350.0,902.1 L1352.1,902.1 L1354.1,899.6 L1356.2,902.4 L1358.3,901.4 L1360.4,904.1 L1362.4,903.6 L1364.5,905.0 L1366.3,904.9 L1368.1,907.0 L1370.0,908.1 L1371.8,907.0 L1373.6,904.9 L1375.7,907.2 L1377.8,910.3 L1379.9,905.8 L1381.9,906.7 L1384.0,910.7 L1386.1,909.3 L1388.2,907.5 L1390.4,907.3 L1392.6,905.5 L1394.7,910.5 L1396.9,909.9 L1399.1,906.5 L1401.2,909.1 L1403.3,909.2 L1405.4,909.5 L1407.6,908.6 L1409.7,913.9 L1411.8,908.6 L1413.6,911.6 L1415.4,909.9 L1417.3,908.4 L1419.1,908.5 L1420.9,908.5 L1422.7,907.2 L1424.5,908.6 L1426.4,911.6 L1428.2,912.1 L1430.0,912.2 L1431.7,911.7 L1433.4,912.6 L1435.1,918.3 L1436.9,915.9 L1438.7,913.4 L1440.4,911.7 L1442.2,909.3 L1444.2,910.7 L1446.3,912.0 L1448.3,911.4 L1450.4,909.4 L1452.4,911.0 L1454.5,909.7 L1456.5,910.6 L1458.5,911.3 L1460.6,911.7 L1462.7,915.0 L1464.7,918.2 L1466.4,913.6 L1468.1,910.8 L1469.8,906.0 L1471.6,908.0 L1473.3,908.1 L1475.1,911.5 L1476.9,910.1 L1478.9,909.0 L1481.0,908.5 L1483.0,907.1 L1485.0,902.6 L1487.1,899.9 L1489.1,893.3 L1491.2,888.6 L1493.2,884.6 L1495.2,881.9 L1497.3,876.3 L1499.3,873.5 L1501.1,871.1 L1502.9,868.2 L1504.7,866.6 L1506.5,866.9 L1508.3,868.4 L1510.0,869.8 L1511.8,874.0 L1513.6,876.9 L1515.7,885.2 L1517.7,893.1 L1519.7,898.6 L1521.8,902.4 L1523.8,906.7 L1525.8,910.6 L1527.8,913.6 L1529.9,917.3 L1531.9,919.7 L1533.9,918.8 L1536.0,919.8 L1538.0,922.4 L1540.1,923.3 L1542.1,925.0 L1544.2,926.8 L1546.2,922.6 L1548.2,924.8 L1550.3,926.4 L1552.3,923.6 L1554.3,927.7 L1556.4,924.7 L1558.4,925.5 L1560.5,924.0 L1562.5,924.7 L1564.5,924.8 L1566.6,925.2 L1568.6,922.2 L1570.7,921.4 L1572.7,924.5 L1574.7,926.1 L1576.8,924.5 L1578.8,924.8 L1580.8,927.8 L1582.9,928.9 L1585.0,928.5 L1587.0,931.4 L1589.0,930.4 L1591.1,930.5 L1593.1,929.8 L1595.2,930.4 L1597.2,929.1 L1599.2,929.9 L1601.3,929.6 L1603.3,929.3 L1605.3,928.9 L1607.4,930.4 L1609.4,930.8 L1611.4,933.5 L1613.5,936.0 L1615.5,933.6 L1617.6,935.0 L1619.6,938.6 L1621.6,937.2 L1623.7,938.5 L1625.8,937.0 L1627.8,940.4 L1629.8,936.6 L1631.9,939.4 L1633.9,936.1 L1635.9,937.0 L1638.0,937.3 L1640.0,933.9 L1642.0,935.3 L1644.1,939.1 L1646.1,933.6 L1648.2,936.3 L1650.2,933.5 L1652.2,937.9 L1654.3,938.4 L1656.3,938.4 L1658.3,939.5 L1660.4,943.7 L1662.4,944.4 L1664.4,941.2 L1666.5,944.0 L1668.5,940.9 L1670.5,940.8 L1672.6,942.3 L1674.6,941.2 L1676.6,942.9 L1678.7,944.5 L1680.8,943.0 L1682.8,945.5 L1684.9,946.0 L1686.9,944.0 L1688.9,948.0 L1691.0,948.6 L1693.0,945.0 L1695.1,947.0 L1697.1,949.3 L1699.1,949.4 L1701.2,947.6 L1703.2,948.1 L1705.2,946.1 L1707.2,943.1 L1709.3,942.5 L1711.3,942.7 L1713.0,937.4 L1714.7,937.6 L1716.4,935.1 L1718.1,940.8 L1719.8,941.8 L1721.5,947.3 L1723.6,949.0 L1725.6,949.6 L1727.7,952.1 L1729.7,952.4 L1731.8,954.8 L1733.8,952.3 L1735.8,953.0 L1737.8,955.3 L1739.9,957.1 L1741.9,959.8 L1743.9,958.6 L1746.0,959.8 L1748.0,958.8 L1750.0,959.1 L1752.1,958.4 L1754.2,960.1 L1756.2,962.8 L1758.2,961.7 L1760.3,960.1 L1762.3,960.2 L1764.3,963.5 L1766.4,964.2 L1768.4,964.1 L1770.5,966.0 L1772.5,961.3 L1774.5,961.3 L1776.6,964.5 L1778.6,966.0 L1780.7,963.6 L1782.7,965.7 L1784.8,966.1 L1786.8,965.1" stroke="#8aa9e2" stroke-width="6.6"/>
<path d="M166.4,1025.5 L168.5,1024.3 L170.6,1023.0 L172.7,1022.8 L174.8,1017.3 L177.0,1012.7 L179.1,1008.2 L180.9,1012.1 L182.7,1016.1 L184.5,1020.5 L186.3,1021.2 L188.2,1023.7 L190.0,1026.3 L192.0,1025.5 L194.0,1025.5 L196.1,1024.5 L198.1,1025.5 L200.1,1025.5 L202.1,1025.5 L204.2,1025.5 L206.2,1025.5 L208.2,1025.5 L210.0,1024.8 L211.8,1024.1 L213.7,1024.2 L215.5,1022.7 L217.3,1024.9 L219.1,1023.3 L220.9,1024.0 L222.7,1025.5 L224.7,1025.5 L226.7,1025.5 L228.6,1026.5 L230.6,1025.5 L232.6,1025.5 L234.6,1025.5 L236.6,1025.5 L238.6,1026.5 L240.5,1025.5 L242.5,1024.5 L244.5,1025.5 L246.3,1024.9 L248.2,1024.2 L250.0,1023.6 L251.8,1024.0 L253.6,1024.4 L255.5,1024.7 L257.3,1023.5 L259.1,1025.5 L261.2,1026.4 L263.4,1027.3 L265.5,1028.2 L267.6,1027.0 L269.7,1025.7 L271.8,1024.5 L273.6,1025.2 L275.4,1026.8 L277.3,1026.7 L279.1,1027.5 L280.9,1028.2 L283.1,1028.0 L285.3,1027.8 L287.4,1027.7 L289.6,1029.2 L291.8,1027.3 L293.9,1027.0 L296.0,1026.8 L298.1,1026.5 L300.1,1026.3 L302.2,1026.0 L304.3,1025.8 L306.4,1025.5 L308.4,1024.5 L310.4,1025.5 L312.3,1025.5 L314.3,1025.5 L316.3,1027.3 L318.3,1025.5 L320.3,1026.5 L322.3,1025.5 L324.2,1023.7 L326.2,1025.5 L328.2,1025.5 L330.0,1026.4 L331.8,1027.3 L333.6,1026.8 L335.5,1026.4 L337.3,1026.0 L339.1,1025.5 L340.9,1025.2 L342.7,1026.6 L344.6,1027.1 L346.4,1026.1 L348.2,1028.2 L350.4,1028.7 L352.6,1027.5 L354.7,1027.1 L356.9,1026.8 L359.1,1026.4 L361.1,1027.4 L363.1,1025.4 L365.2,1026.4 L367.2,1027.4 L369.2,1025.4 L371.2,1026.4 L373.3,1026.4 L375.3,1026.4 L377.3,1026.4 L379.3,1026.3 L381.3,1026.2 L383.4,1026.1 L385.4,1026.0 L387.4,1025.9 L389.4,1026.8 L391.5,1025.7 L393.5,1025.6 L395.5,1025.5 L397.8,1024.3 L400.0,1023.2 L402.2,1021.3 L404.5,1020.9 L406.6,1020.3 L408.8,1019.7 L410.9,1019.1 L413.0,1019.7 L415.2,1020.3 L417.3,1020.0 L419.1,1020.7 L420.9,1020.5 L422.7,1021.9 L424.5,1020.9 L426.3,1021.1 L428.1,1022.2 L430.0,1022.6 L431.8,1023.7 L433.9,1025.1 L436.0,1024.2 L438.1,1025.5 L440.3,1027.0 L442.4,1028.4 L444.5,1028.2 L446.3,1026.3 L448.2,1027.6 L450.0,1027.3 L451.8,1027.9 L453.7,1026.7 L455.5,1026.4 L457.6,1026.6 L459.7,1026.7 L461.9,1026.8 L464.0,1027.0 L466.1,1027.2 L468.2,1027.3 L470.2,1026.2 L472.1,1026.1 L474.1,1027.9 L476.1,1026.8 L478.0,1026.6 L480.0,1026.5 L482.0,1026.7 L484.0,1026.8 L486.0,1027.0 L488.0,1027.2 L490.0,1028.3 L492.0,1029.2 L494.0,1027.7 L496.0,1027.9 L498.0,1029.7 L500.0,1028.2 L502.0,1029.2 L504.0,1028.2 L506.0,1029.2 L508.0,1026.4 L510.0,1028.2 L512.0,1028.2 L514.0,1028.2 L516.0,1027.2 L518.0,1027.2 L520.0,1028.2 L522.0,1027.2 L524.0,1028.2 L526.0,1028.2 L528.0,1027.2 L530.0,1028.2 L532.0,1028.2 L534.0,1028.2 L536.0,1028.2 L538.0,1029.2 L540.0,1028.2 L542.0,1027.2 L544.0,1028.2 L546.0,1028.2 L548.0,1028.2 L550.0,1028.2 L552.0,1028.3 L554.0,1028.3 L556.0,1028.3 L558.0,1028.3 L560.0,1029.3 L562.0,1028.3 L564.0,1028.3 L566.0,1026.5 L568.0,1028.3 L570.0,1028.3 L572.0,1028.3 L574.0,1029.3 L576.0,1028.3 L578.0,1028.3 L580.0,1028.3 L582.0,1028.3 L584.0,1028.3 L586.0,1028.3 L588.0,1028.3 L590.0,1028.3 L592.0,1028.3 L594.0,1028.3 L596.0,1028.3 L598.0,1026.5 L600.0,1028.3 L602.0,1028.3 L604.0,1028.3 L606.0,1028.3 L608.0,1029.3 L610.0,1029.3 L612.0,1029.3 L614.0,1028.3 L616.0,1028.3 L618.0,1029.3 L620.0,1028.3 L622.0,1028.3 L624.0,1026.6 L626.0,1028.4 L628.0,1028.4 L630.0,1027.4 L632.0,1028.4 L634.0,1027.4 L636.0,1028.4 L638.0,1027.4 L640.0,1029.4 L642.0,1028.4 L644.0,1028.4 L646.0,1029.4 L648.0,1026.6 L650.0,1028.4 L652.0,1028.4 L654.0,1027.4 L656.0,1028.4 L658.0,1028.4 L660.0,1028.4 L662.0,1029.4 L664.0,1028.4 L666.0,1028.4 L668.0,1028.4 L670.0,1030.2 L672.0,1027.4 L674.0,1027.4 L676.0,1027.5 L678.0,1028.5 L680.0,1026.7 L682.0,1028.5 L684.0,1028.5 L686.0,1028.5 L688.0,1028.5 L690.0,1028.5 L692.0,1030.3 L694.0,1028.5 L696.0,1028.5 L698.0,1027.5 L700.0,1028.5 L702.0,1026.7 L704.0,1028.5 L706.0,1028.5 L708.0,1028.5 L710.0,1028.5 L712.0,1028.5 L714.0,1028.5 L716.0,1028.5 L718.0,1028.5 L720.0,1028.5 L722.0,1027.5 L724.0,1029.5 L726.0,1028.5 L728.0,1027.5 L730.0,1028.5 L732.0,1028.5 L734.0,1029.5 L736.0,1028.5 L738.0,1030.3 L740.0,1028.5 L742.0,1028.5 L744.0,1028.5 L746.0,1028.5 L748.0,1026.7 L750.0,1028.5 L752.0,1028.5 L754.0,1028.5 L756.0,1028.5 L758.0,1028.5 L760.0,1028.5 L762.0,1028.5 L764.0,1028.5 L766.0,1028.5 L768.0,1027.5 L770.0,1027.5 L772.0,1028.5 L774.0,1026.7 L776.0,1028.5 L778.0,1028.5 L780.0,1028.5 L782.0,1028.5 L784.0,1029.5 L786.0,1030.3 L788.0,1027.5 L790.0,1028.5 L792.0,1028.5 L794.0,1028.5 L796.0,1028.5 L798.0,1028.5 L800.0,1026.7 L802.0,1028.5 L804.0,1029.5 L806.0,1029.5 L808.0,1028.5 L810.0,1028.5 L812.0,1030.3 L814.0,1030.3 L816.0,1028.5 L818.0,1028.5 L820.0,1028.5 L822.0,1027.5 L824.0,1026.7 L826.0,1028.5 L828.0,1030.3 L830.0,1028.5 L832.0,1028.5 L834.0,1028.5 L836.0,1027.5 L838.0,1028.5 L840.0,1028.5 L842.0,1028.5 L844.0,1028.5 L846.0,1028.5 L848.0,1028.5 L850.0,1029.5 L852.0,1030.3 L854.0,1028.5 L856.0,1028.5 L858.0,1028.5 L860.0,1029.5 L862.0,1028.5 L864.0,1028.5 L866.0,1028.5 L868.0,1028.5 L870.0,1028.5 L871.8,1026.1 L873.7,1026.5 L875.5,1025.5 L877.5,1026.5 L879.5,1025.5 L881.5,1025.5 L883.5,1024.5 L885.6,1025.5 L887.6,1025.5 L889.6,1024.5 L891.6,1025.5 L893.6,1024.6 L895.4,1026.5 L897.3,1027.5 L899.1,1028.5 L901.1,1029.5 L903.1,1028.5 L905.2,1028.5 L907.2,1028.5 L909.2,1027.5 L911.2,1028.5 L913.3,1028.5 L915.3,1027.5 L917.3,1028.5 L919.1,1027.9 L920.9,1027.3 L922.8,1026.7 L924.6,1026.1 L926.4,1025.5 L928.5,1025.2 L930.6,1024.9 L932.8,1024.5 L934.9,1024.2 L937.0,1023.0 L939.1,1023.6 L940.9,1024.0 L942.7,1024.4 L944.6,1024.7 L946.4,1025.1 L948.2,1025.5 L950.2,1025.6 L952.1,1025.7 L954.1,1025.7 L956.1,1025.8 L958.0,1026.9 L960.0,1026.0 L962.0,1026.0 L963.9,1026.1 L965.9,1027.9 L967.9,1026.2 L969.8,1025.3 L971.8,1026.4 L973.6,1027.7 L975.4,1027.2 L977.3,1026.1 L979.1,1028.1 L980.9,1028.5 L982.7,1027.9 L984.5,1027.3 L986.4,1027.5 L988.2,1026.1 L990.0,1026.4 L992.0,1025.5 L994.0,1025.5 L996.1,1025.5 L998.1,1025.5 L1000.1,1023.7 L1002.1,1025.5 L1004.2,1025.5 L1006.2,1025.5 L1008.2,1025.5 L1010.0,1023.8 L1011.9,1024.4 L1013.7,1022.7 L1015.5,1021.8 L1017.3,1021.3 L1019.1,1020.9 L1020.9,1020.4 L1022.7,1021.7 L1024.5,1021.3 L1026.4,1021.8 L1028.2,1022.2 L1030.0,1023.6 L1032.2,1023.3 L1034.4,1023.8 L1036.5,1024.4 L1038.7,1025.8 L1040.9,1023.8 L1043.0,1025.3 L1045.1,1025.2 L1047.2,1025.0 L1049.4,1024.8 L1051.5,1024.7 L1053.6,1024.5 L1055.4,1024.9 L1057.2,1025.3 L1059.1,1025.6 L1060.9,1026.0 L1062.7,1026.4 L1064.7,1026.4 L1066.6,1025.4 L1068.6,1026.4 L1070.6,1026.4 L1072.6,1025.4 L1074.5,1026.4 L1076.5,1026.4 L1078.5,1026.4 L1080.4,1026.4 L1082.4,1026.4 L1084.4,1026.4 L1086.3,1027.4 L1088.3,1026.4 L1090.3,1026.4 L1092.3,1026.4 L1094.2,1026.4 L1096.2,1025.4 L1098.2,1026.4 L1100.1,1028.2 L1102.1,1026.4 L1104.1,1026.4 L1106.1,1026.4 L1108.0,1026.4 L1110.0,1026.4 L1112.0,1026.3 L1114.0,1026.1 L1116.1,1026.0 L1118.1,1025.8 L1120.1,1025.7 L1122.1,1024.6 L1124.2,1025.4 L1126.2,1026.2 L1128.2,1025.1 L1130.3,1025.2 L1132.4,1024.3 L1134.6,1026.3 L1136.7,1025.4 L1138.8,1025.4 L1140.9,1027.2 L1142.7,1024.9 L1144.6,1025.1 L1146.4,1024.5 L1148.3,1023.6 L1150.3,1023.7 L1152.2,1023.7 L1154.2,1025.5 L1156.1,1025.5 L1158.1,1024.8 L1160.0,1023.8 L1161.9,1023.8 L1163.9,1023.9 L1165.8,1023.9 L1167.8,1023.9 L1169.7,1023.9 L1171.7,1024.0 L1173.6,1024.0 L1175.4,1022.7 L1177.2,1024.0 L1179.1,1022.7 L1180.9,1022.2 L1182.7,1021.8 L1184.8,1019.9 L1186.9,1019.8 L1189.0,1021.4 L1191.0,1020.3 L1193.1,1021.2 L1195.2,1019.3 L1197.3,1020.9 L1199.1,1019.8 L1200.9,1018.7 L1202.8,1017.7 L1204.6,1015.8 L1206.4,1015.5 L1208.2,1014.6 L1210.0,1015.0 L1211.9,1012.7 L1213.7,1011.8 L1215.5,1010.9 L1217.3,1012.5 L1219.1,1014.1 L1220.9,1015.7 L1222.7,1017.3 L1224.9,1018.2 L1227.1,1019.1 L1229.2,1020.0 L1231.4,1020.9 L1233.6,1020.9 L1235.6,1021.8 L1237.6,1021.8 L1239.7,1021.8 L1241.7,1021.8 L1243.7,1021.8 L1245.7,1020.0 L1247.8,1021.8 L1249.8,1021.8 L1251.8,1022.7 L1254.0,1021.1 L1256.2,1020.4 L1258.3,1019.6 L1260.5,1018.9 L1262.7,1019.0 L1264.5,1017.1 L1266.3,1015.9 L1268.2,1014.0 L1270.0,1013.6 L1272.2,1013.4 L1274.4,1012.3 L1276.5,1013.1 L1278.7,1012.9 L1280.9,1012.7 L1282.7,1011.3 L1284.6,1007.3 L1286.4,1005.5 L1288.7,1004.1 L1290.9,1002.7 L1293.2,1004.5 L1295.5,1006.4 L1297.3,1010.3 L1299.1,1012.5 L1300.9,1015.5 L1302.7,1016.5 L1304.6,1017.5 L1306.4,1018.5 L1308.5,1019.7 L1310.6,1018.1 L1312.8,1019.2 L1314.9,1019.5 L1317.0,1020.7 L1319.1,1020.0 L1321.2,1020.4 L1323.3,1020.7 L1325.4,1021.1 L1327.6,1021.5 L1329.7,1023.5 L1331.8,1022.2 L1333.8,1022.2 L1335.9,1023.3 L1337.9,1022.3 L1340.0,1022.3 L1342.0,1022.4 L1344.1,1023.4 L1346.1,1021.4 L1348.2,1022.5 L1350.2,1023.5 L1352.2,1022.5 L1354.3,1020.8 L1356.3,1022.6 L1358.4,1021.6 L1360.4,1022.6 L1362.5,1022.7 L1364.5,1021.7 L1366.5,1021.8 L1368.5,1022.8 L1370.6,1022.9 L1372.6,1022.9 L1374.6,1023.0 L1376.6,1021.2 L1378.7,1023.1 L1380.7,1023.1 L1382.7,1024.9 L1384.7,1023.2 L1386.7,1024.2 L1388.8,1023.3 L1390.8,1023.4 L1392.8,1023.4 L1394.8,1023.5 L1396.9,1023.5 L1398.9,1023.6 L1400.9,1022.6 L1402.8,1023.6 L1404.8,1023.6 L1406.7,1025.4 L1408.7,1023.6 L1410.6,1023.6 L1412.5,1023.6 L1414.5,1023.6 L1416.4,1022.6 L1418.4,1023.6 L1420.3,1023.6 L1422.2,1021.8 L1424.2,1021.8 L1426.1,1023.6 L1428.1,1023.6 L1430.0,1023.6 L1432.0,1023.6 L1434.1,1023.5 L1436.1,1023.5 L1438.2,1023.4 L1440.2,1023.4 L1442.2,1024.3 L1444.3,1023.2 L1446.3,1023.2 L1448.4,1022.2 L1450.4,1023.1 L1452.4,1023.1 L1454.5,1023.0 L1456.5,1023.0 L1458.6,1022.9 L1460.6,1022.9 L1462.6,1022.8 L1464.7,1022.8 L1466.7,1022.7 L1468.8,1022.6 L1470.8,1021.6 L1472.8,1021.4 L1474.9,1022.1 L1476.9,1022.7 L1478.9,1021.5 L1481.0,1021.3 L1483.0,1021.0 L1485.1,1020.8 L1487.1,1020.5 L1489.1,1019.3 L1491.2,1018.1 L1493.2,1016.2 L1495.2,1015.8 L1497.3,1014.6 L1499.3,1013.4 L1501.2,1012.2 L1503.0,1011.8 L1504.9,1009.8 L1506.8,1008.7 L1508.6,1007.5 L1510.5,1006.3 L1512.3,1008.1 L1514.1,1009.8 L1515.9,1012.3 L1517.7,1012.2 L1519.7,1015.0 L1521.8,1016.6 L1523.8,1017.6 L1525.9,1019.9 L1527.9,1021.5 L1529.9,1021.9 L1532.0,1022.3 L1534.0,1022.7 L1536.1,1023.0 L1538.1,1023.4 L1540.1,1023.8 L1542.2,1024.2 L1544.2,1022.9 L1546.2,1024.5 L1548.3,1024.3 L1550.3,1024.2 L1552.3,1024.0 L1554.4,1023.9 L1556.4,1022.8 L1558.5,1023.6 L1560.5,1022.5 L1562.5,1023.3 L1564.6,1023.2 L1566.6,1023.0 L1568.6,1022.9 L1570.7,1022.7 L1572.7,1023.6 L1574.7,1022.8 L1576.8,1022.9 L1578.8,1024.8 L1580.9,1024.2 L1582.9,1023.4 L1584.9,1023.5 L1587.0,1022.7 L1589.0,1023.8 L1591.1,1023.9 L1593.1,1024.1 L1595.1,1024.2 L1597.2,1024.4 L1599.2,1024.5 L1601.3,1023.7 L1603.3,1024.8 L1605.3,1026.0 L1607.4,1026.1 L1609.4,1025.3 L1611.5,1024.5 L1613.5,1023.8 L1615.5,1025.5 L1617.6,1025.3 L1619.6,1025.2 L1621.7,1025.1 L1623.7,1024.9 L1625.7,1024.8 L1627.8,1024.7 L1629.8,1024.5 L1631.9,1023.4 L1633.9,1024.3 L1635.9,1023.2 L1638.0,1025.0 L1640.0,1023.9 L1642.1,1023.7 L1644.1,1024.6 L1646.1,1023.8 L1648.2,1024.0 L1650.2,1025.1 L1652.3,1023.5 L1654.3,1024.6 L1656.3,1024.8 L1658.4,1025.0 L1660.4,1025.2 L1662.5,1025.4 L1664.5,1025.6 L1666.5,1025.6 L1668.6,1025.5 L1670.6,1024.5 L1672.6,1024.5 L1674.7,1026.5 L1676.7,1025.4 L1678.7,1025.4 L1680.8,1025.4 L1682.8,1025.4 L1684.8,1026.3 L1686.9,1025.3 L1688.9,1025.3 L1690.9,1025.3 L1693.0,1025.2 L1695.0,1023.4 L1697.0,1025.0 L1699.1,1023.9 L1701.1,1024.7 L1703.2,1023.6 L1705.2,1023.4 L1707.2,1024.2 L1709.3,1024.1 L1711.3,1023.9 L1713.4,1023.8 L1715.4,1023.6 L1717.4,1022.2 L1719.5,1023.3 L1721.5,1024.5 L1723.6,1024.8 L1725.6,1026.8 L1727.6,1025.4 L1729.7,1025.7 L1731.7,1026.0 L1733.8,1026.3 L1735.8,1026.6 L1737.8,1026.7 L1739.9,1026.9 L1741.9,1027.0 L1744.0,1027.2 L1746.0,1027.3 L1748.0,1027.4 L1750.1,1028.5 L1752.1,1027.7 L1754.2,1028.8 L1756.2,1028.0 L1758.2,1029.1 L1760.3,1028.3 L1762.3,1028.4 L1764.4,1027.6 L1766.4,1028.7 L1768.4,1028.6 L1770.5,1028.5 L1772.5,1028.4 L1774.6,1029.3 L1776.6,1028.2 L1778.6,1027.1 L1780.7,1028.0 L1782.7,1027.9 L1784.8,1027.8 L1786.8,1028.7" stroke="#0fd0b0" stroke-width="5.3"/>
<path d="M166.7,1157.2 L168.5,1158.4 L170.2,1157.9 L172.0,1156.7 L174.3,1156.6 L176.5,1154.9 L178.8,1155.8 L180.6,1155.7 L182.4,1156.5 L184.2,1157.3 L186.0,1158.2 L188.0,1158.3 L190.0,1158.4 L192.0,1159.4 L194.0,1157.6 L196.0,1158.6 L198.0,1158.7 L200.0,1158.8 L202.0,1158.8 L204.0,1159.8 L206.0,1158.8 L208.0,1158.8 L210.0,1158.8 L212.0,1158.8 L214.0,1159.8 L216.0,1158.8 L218.0,1157.8 L220.0,1158.8 L222.0,1157.0 L224.0,1158.8 L226.0,1158.9 L228.0,1158.9 L230.0,1157.9 L232.0,1158.9 L234.0,1158.9 L236.0,1157.9 L238.0,1159.9 L240.0,1158.9 L242.0,1158.9 L244.0,1159.9 L246.0,1158.9 L248.0,1158.9 L250.0,1158.9 L252.0,1160.7 L254.0,1158.9 L256.0,1158.9 L258.0,1158.9 L260.0,1158.9 L262.0,1158.9 L264.0,1158.9 L266.0,1157.9 L268.0,1159.9 L270.0,1158.9 L272.0,1158.9 L274.0,1158.9 L276.0,1159.0 L278.0,1158.0 L280.0,1159.0 L282.0,1159.0 L284.0,1160.0 L286.0,1159.0 L288.0,1159.0 L290.0,1159.0 L292.0,1157.2 L294.0,1159.0 L296.0,1159.0 L298.0,1159.0 L300.0,1157.2 L302.0,1160.0 L304.0,1159.0 L306.0,1159.0 L308.0,1159.0 L310.0,1159.0 L312.0,1159.0 L314.0,1159.0 L316.0,1159.0 L318.0,1159.0 L320.0,1159.0 L322.0,1159.0 L324.0,1159.0 L326.0,1159.0 L328.0,1160.0 L330.0,1160.0 L332.0,1159.0 L334.0,1159.0 L336.0,1159.0 L338.0,1159.0 L340.0,1159.0 L342.0,1159.0 L344.0,1159.0 L346.0,1160.8 L348.0,1159.0 L350.0,1159.0 L352.0,1159.0 L354.0,1159.0 L356.0,1159.0 L358.0,1159.0 L360.0,1159.0 L362.0,1158.0 L364.0,1159.0 L366.0,1159.0 L368.0,1160.8 L370.0,1159.0 L372.0,1158.0 L374.0,1159.0 L376.0,1159.0 L378.0,1159.0 L380.0,1159.0 L382.0,1159.0 L384.0,1159.0 L386.0,1159.0 L388.0,1158.0 L390.0,1159.0 L392.0,1160.0 L394.0,1158.0 L396.0,1159.0 L398.0,1159.0 L400.0,1160.0 L402.0,1159.0 L404.0,1157.2 L406.0,1160.8 L408.0,1159.0 L410.0,1160.0 L412.0,1159.0 L414.0,1159.0 L416.0,1159.0 L418.0,1157.2 L420.0,1159.0 L422.0,1159.0 L424.0,1159.0 L426.0,1157.2 L428.0,1159.0 L430.0,1157.2 L432.0,1159.0 L434.0,1159.0 L436.0,1159.0 L438.0,1159.0 L440.0,1160.0 L442.0,1159.0 L444.0,1158.0 L446.0,1159.0 L448.0,1159.0 L450.0,1160.0 L452.0,1159.0 L454.0,1159.0 L456.0,1160.0 L458.0,1158.0 L460.0,1159.0 L462.0,1159.0 L464.0,1159.0 L466.0,1159.0 L468.0,1159.0 L470.0,1159.0 L472.0,1159.0 L474.0,1158.0 L476.0,1159.0 L478.0,1160.8 L480.0,1159.0 L482.0,1158.0 L484.0,1159.0 L486.0,1159.0 L488.0,1159.0 L490.0,1159.0 L492.0,1159.0 L494.0,1159.0 L496.0,1160.0 L498.0,1159.0 L500.0,1160.0 L502.0,1159.0 L504.0,1159.0 L506.0,1159.0 L508.0,1159.0 L510.0,1159.0 L512.0,1160.0 L514.0,1160.8 L516.0,1159.0 L518.0,1159.0 L520.0,1159.0 L522.0,1160.0 L524.0,1159.0 L526.0,1159.0 L528.0,1159.0 L530.0,1159.0 L532.0,1160.0 L534.0,1159.0 L536.0,1160.0 L538.0,1158.0 L540.0,1159.0 L542.0,1159.0 L544.0,1159.0 L546.0,1159.0 L548.0,1159.0 L550.0,1159.0 L552.0,1159.1 L554.0,1159.1 L556.0,1160.9 L558.0,1157.3 L560.0,1159.1 L562.0,1160.1 L564.0,1157.3 L566.0,1159.1 L568.0,1160.1 L570.0,1159.1 L572.0,1159.1 L574.0,1159.1 L576.0,1160.9 L578.0,1160.1 L580.0,1160.1 L582.0,1160.9 L584.0,1159.1 L586.0,1159.1 L588.0,1160.1 L590.0,1159.1 L592.0,1159.1 L594.0,1159.1 L596.0,1159.1 L598.0,1159.1 L600.0,1159.1 L602.0,1159.1 L604.0,1159.1 L606.0,1159.1 L608.0,1159.1 L610.0,1159.1 L612.0,1159.1 L614.0,1159.1 L616.0,1160.1 L618.0,1159.0 L620.0,1159.0 L622.0,1159.0 L624.0,1160.8 L626.0,1159.0 L628.0,1158.0 L630.0,1159.0 L632.0,1159.0 L634.0,1159.0 L636.0,1160.0 L638.0,1159.0 L640.0,1159.0 L642.0,1159.0 L644.0,1159.0 L646.0,1159.0 L648.0,1159.0 L650.0,1159.9 L652.0,1159.9 L654.0,1157.9 L656.0,1158.9 L658.0,1158.9 L660.0,1159.9 L662.0,1158.9 L664.0,1158.9 L666.0,1158.9 L668.0,1158.9 L670.0,1158.9 L672.0,1158.9 L674.0,1158.9 L676.0,1158.9 L678.0,1158.9 L680.0,1157.9 L682.0,1157.1 L684.0,1158.8 L686.0,1157.0 L688.0,1158.8 L690.0,1158.8 L692.0,1158.8 L694.0,1158.8 L696.0,1157.0 L698.0,1158.8 L700.0,1158.8 L702.0,1158.8 L704.0,1158.8 L706.0,1158.8 L708.0,1158.8 L710.0,1160.6 L712.0,1159.8 L714.0,1158.8 L716.0,1157.8 L718.0,1158.8 L720.0,1159.8 L722.0,1160.6 L724.0,1157.8 L726.0,1157.8 L728.0,1158.8 L730.0,1158.8 L732.0,1158.8 L734.0,1158.8 L736.0,1160.6 L738.0,1158.8 L740.0,1158.8 L742.0,1158.8 L744.0,1157.8 L746.0,1158.8 L748.0,1158.8 L750.0,1158.8 L752.0,1157.9 L754.0,1158.9 L756.0,1158.9 L758.0,1158.9 L760.0,1158.9 L762.0,1158.9 L764.0,1158.9 L766.0,1158.9 L768.0,1158.9 L770.0,1158.9 L772.0,1158.9 L774.0,1158.9 L776.0,1158.9 L778.0,1159.9 L780.0,1158.9 L782.0,1158.9 L784.0,1158.9 L786.0,1158.9 L788.0,1158.9 L790.0,1157.9 L792.0,1158.9 L794.0,1158.9 L796.0,1160.7 L798.0,1158.9 L800.0,1158.9 L802.0,1158.9 L804.0,1158.9 L806.0,1158.9 L808.0,1158.9 L810.0,1159.9 L812.0,1158.9 L814.0,1158.9 L816.0,1158.9 L818.0,1158.9 L820.0,1158.9 L822.0,1158.9 L824.0,1158.9 L826.0,1158.9 L828.0,1158.9 L830.0,1158.9 L832.0,1158.9 L834.0,1159.9 L836.0,1158.9 L838.0,1158.9 L840.0,1158.9 L842.0,1158.9 L844.0,1157.9 L846.0,1157.9 L848.0,1158.9 L850.0,1158.9 L852.0,1160.7 L854.0,1158.9 L856.0,1158.9 L858.0,1157.9 L860.0,1157.1 L862.0,1158.9 L864.0,1157.9 L866.0,1158.9 L868.0,1158.9 L870.0,1158.9 L872.0,1158.8 L874.0,1158.8 L876.0,1157.8 L878.0,1157.0 L880.0,1158.8 L882.0,1158.8 L884.0,1159.8 L886.0,1158.8 L888.0,1158.8 L890.0,1158.8 L892.0,1158.8 L894.0,1158.8 L896.0,1158.8 L898.0,1157.0 L900.0,1158.8 L902.0,1158.8 L904.0,1158.8 L906.0,1158.8 L908.0,1157.0 L910.0,1158.8 L912.0,1159.8 L914.0,1157.8 L916.0,1159.8 L918.0,1158.8 L920.0,1158.8 L922.0,1158.8 L924.0,1157.8 L926.0,1158.8 L928.0,1158.8 L930.0,1159.8 L932.0,1159.8 L934.0,1158.8 L936.0,1157.0 L938.0,1157.8 L940.0,1157.8 L942.0,1158.8 L944.0,1157.8 L946.1,1158.7 L948.1,1158.7 L950.1,1157.7 L952.2,1158.7 L954.2,1158.6 L956.2,1157.6 L958.3,1158.6 L960.3,1160.3 L962.3,1156.7 L964.4,1158.5 L966.4,1158.4 L968.4,1158.4 L970.5,1156.6 L972.5,1158.3 L974.5,1158.3 L976.6,1158.3 L978.6,1158.3 L980.6,1158.2 L982.7,1158.2 L984.7,1158.2 L986.7,1158.1 L988.8,1158.1 L990.8,1158.1 L992.8,1159.0 L994.9,1157.0 L996.9,1158.0 L998.9,1157.0 L1001.0,1157.9 L1003.0,1157.9 L1005.0,1156.9 L1007.0,1158.0 L1009.1,1158.0 L1011.1,1158.0 L1013.1,1158.1 L1015.1,1158.1 L1017.1,1158.1 L1019.2,1159.9 L1021.2,1158.2 L1023.2,1158.2 L1025.2,1158.2 L1027.2,1158.3 L1029.3,1158.3 L1031.3,1158.3 L1033.3,1158.3 L1035.3,1158.4 L1037.3,1158.4 L1039.4,1158.4 L1041.4,1158.5 L1043.4,1159.5 L1045.4,1158.5 L1047.4,1159.6 L1049.5,1159.6 L1051.5,1158.6 L1053.5,1158.7 L1055.5,1158.7 L1057.5,1158.7 L1059.6,1158.7 L1061.6,1158.8 L1063.6,1158.8 L1065.6,1158.8 L1067.6,1158.7 L1069.6,1158.7 L1071.7,1158.7 L1073.7,1158.7 L1075.7,1158.6 L1077.7,1158.6 L1079.7,1158.6 L1081.7,1158.5 L1083.7,1157.5 L1085.7,1158.5 L1087.8,1158.4 L1089.8,1157.4 L1091.8,1159.4 L1093.8,1160.1 L1095.8,1158.3 L1097.8,1158.3 L1099.8,1157.3 L1101.9,1159.2 L1103.9,1158.2 L1105.9,1158.2 L1107.9,1157.1 L1109.9,1158.1 L1111.9,1159.1 L1113.9,1158.1 L1115.9,1158.0 L1118.0,1158.0 L1120.0,1157.0 L1122.0,1157.9 L1124.0,1157.9 L1126.0,1157.8 L1128.1,1157.8 L1130.1,1157.7 L1132.1,1157.6 L1134.1,1157.6 L1136.2,1157.5 L1138.2,1157.4 L1140.2,1157.3 L1142.2,1157.3 L1144.3,1157.2 L1146.3,1157.1 L1148.3,1157.1 L1150.3,1155.2 L1152.4,1155.2 L1154.4,1156.8 L1156.4,1156.8 L1158.5,1156.7 L1160.5,1156.6 L1162.5,1156.6 L1164.5,1156.5 L1166.6,1156.4 L1168.6,1154.6 L1170.6,1157.3 L1172.6,1156.2 L1174.7,1156.2 L1176.7,1156.1 L1178.7,1156.0 L1180.7,1156.9 L1182.8,1156.8 L1184.8,1155.8 L1186.7,1155.6 L1188.6,1155.5 L1190.5,1155.3 L1192.4,1155.2 L1194.3,1153.3 L1196.2,1154.9 L1198.1,1155.7 L1200.0,1153.7 L1202.2,1154.3 L1204.3,1153.1 L1206.5,1154.7 L1208.7,1153.5 L1210.8,1154.9 L1213.0,1152.9 L1215.2,1154.2 L1217.3,1153.6 L1219.5,1154.0 L1221.7,1154.3 L1223.8,1154.7 L1226.0,1155.0 L1228.0,1155.1 L1230.0,1155.2 L1232.0,1155.3 L1234.0,1155.4 L1236.0,1155.5 L1238.0,1155.6 L1240.0,1155.7 L1242.0,1155.8 L1244.0,1155.9 L1246.0,1156.0 L1248.0,1156.1 L1250.0,1154.4 L1252.0,1156.0 L1254.0,1155.8 L1256.0,1156.5 L1258.0,1155.3 L1260.0,1156.0 L1262.0,1154.9 L1264.0,1154.7 L1266.0,1154.4 L1268.0,1153.3 L1270.0,1154.0 L1272.0,1153.5 L1274.1,1153.1 L1276.2,1152.7 L1278.2,1152.2 L1280.2,1151.8 L1282.3,1151.3 L1284.4,1150.9 L1286.4,1151.4 L1288.3,1150.8 L1290.3,1151.2 L1292.2,1151.6 L1294.2,1152.0 L1296.1,1152.4 L1298.1,1153.7 L1300.0,1153.2 L1302.1,1152.6 L1304.2,1152.9 L1306.4,1154.2 L1308.5,1154.5 L1310.6,1154.8 L1312.6,1154.9 L1314.7,1155.0 L1316.7,1155.1 L1318.7,1155.2 L1320.7,1155.3 L1322.8,1155.4 L1324.8,1155.5 L1326.8,1155.7 L1328.8,1155.8 L1330.9,1155.9 L1332.9,1156.0 L1334.9,1156.1 L1336.9,1156.2 L1339.0,1156.3 L1341.0,1154.6 L1343.0,1156.4 L1344.9,1155.4 L1346.9,1156.4 L1348.9,1156.4 L1350.8,1156.4 L1352.8,1156.4 L1354.8,1156.4 L1356.7,1156.5 L1358.7,1156.5 L1360.7,1156.5 L1362.6,1156.5 L1364.6,1156.5 L1366.6,1156.5 L1368.5,1156.5 L1370.5,1156.5 L1372.5,1156.5 L1374.4,1156.5 L1376.4,1156.5 L1378.4,1156.5 L1380.3,1156.5 L1382.3,1158.3 L1384.3,1156.5 L1386.2,1156.6 L1388.2,1154.8 L1390.2,1157.6 L1392.1,1157.6 L1394.1,1156.6 L1396.1,1156.6 L1398.0,1156.6 L1400.0,1156.6 L1402.0,1156.6 L1404.0,1156.6 L1406.0,1156.6 L1408.0,1155.6 L1410.0,1156.6 L1412.1,1157.6 L1414.1,1155.6 L1416.1,1156.6 L1418.1,1156.6 L1420.1,1155.6 L1422.1,1157.5 L1424.1,1157.5 L1426.1,1156.5 L1428.1,1156.5 L1430.1,1156.5 L1432.1,1155.5 L1434.2,1158.3 L1436.2,1156.5 L1438.2,1157.5 L1440.2,1156.5 L1442.2,1156.5 L1444.2,1155.5 L1446.2,1156.5 L1448.2,1156.5 L1450.2,1157.5 L1452.2,1156.5 L1454.3,1155.5 L1456.3,1156.5 L1458.3,1156.5 L1460.3,1156.5 L1462.3,1156.5 L1464.3,1156.5 L1466.3,1156.4 L1468.3,1156.4 L1470.3,1157.4 L1472.3,1156.4 L1474.3,1155.4 L1476.4,1155.4 L1478.4,1156.4 L1480.4,1156.4 L1482.4,1155.4 L1484.4,1156.4 L1486.4,1156.4 L1488.3,1156.0 L1490.2,1155.6 L1492.2,1155.3 L1494.1,1155.8 L1496.0,1154.5 L1498.0,1154.2 L1500.0,1153.8 L1502.0,1153.5 L1504.0,1153.1 L1506.0,1154.6 L1508.0,1153.2 L1510.0,1154.5 L1512.0,1153.1 L1514.0,1153.5 L1516.0,1154.8 L1518.2,1155.1 L1520.5,1154.5 L1522.7,1155.8 L1524.7,1155.9 L1526.7,1156.0 L1528.6,1156.1 L1530.6,1156.2 L1532.6,1157.2 L1534.6,1155.4 L1536.5,1156.4 L1538.5,1156.5 L1540.5,1156.6 L1542.5,1156.7 L1544.5,1157.8 L1546.4,1156.9 L1548.4,1157.0 L1550.4,1157.1 L1552.4,1156.2 L1554.4,1155.5 L1556.3,1157.4 L1558.3,1157.4 L1560.3,1158.5 L1562.3,1157.6 L1564.2,1157.7 L1566.2,1157.8 L1568.2,1157.9 L1570.2,1157.9 L1572.1,1156.0 L1574.1,1156.8 L1576.1,1157.7 L1578.1,1156.7 L1580.0,1157.7 L1582.0,1157.6 L1584.0,1157.6 L1586.0,1156.6 L1587.9,1155.7 L1589.9,1157.5 L1591.9,1155.7 L1593.9,1157.4 L1595.8,1157.4 L1597.8,1157.3 L1599.8,1156.3 L1601.8,1157.2 L1603.7,1157.2 L1605.7,1157.2 L1607.7,1157.1 L1609.7,1157.1 L1611.6,1158.8 L1613.6,1157.0 L1615.6,1157.0 L1617.6,1157.0 L1619.7,1158.1 L1621.7,1157.1 L1623.7,1157.1 L1625.7,1157.1 L1627.7,1157.1 L1629.8,1157.2 L1631.8,1157.2 L1633.8,1157.2 L1635.8,1158.2 L1637.8,1157.2 L1639.9,1158.3 L1641.9,1158.3 L1643.9,1157.3 L1645.9,1157.3 L1647.9,1157.3 L1650.0,1157.4 L1652.0,1158.4 L1654.0,1156.4 L1656.0,1157.4 L1658.0,1157.4 L1660.1,1157.5 L1662.1,1156.5 L1664.1,1157.5 L1666.1,1157.5 L1668.1,1157.5 L1670.2,1157.6 L1672.2,1158.6 L1674.2,1156.6 L1676.2,1158.6 L1678.2,1157.6 L1680.3,1157.7 L1682.3,1157.7 L1684.3,1157.7 L1686.3,1159.5 L1688.3,1157.7 L1690.4,1157.8 L1692.4,1158.8 L1694.4,1157.8 L1696.4,1158.8 L1698.4,1157.8 L1700.5,1156.9 L1702.5,1156.9 L1704.5,1156.9 L1706.5,1158.0 L1708.5,1157.0 L1710.4,1157.1 L1712.4,1158.2 L1714.4,1158.2 L1716.4,1158.3 L1718.3,1157.4 L1720.3,1158.4 L1722.3,1158.5 L1724.3,1158.6 L1726.3,1158.6 L1728.2,1156.9 L1730.2,1158.7 L1732.2,1158.8 L1734.2,1158.9 L1736.2,1158.9 L1738.1,1159.0 L1740.1,1160.1 L1742.1,1159.1 L1744.1,1159.2 L1746.0,1158.3 L1748.0,1159.3 L1750.0,1159.4 L1752.0,1159.4 L1754.0,1159.4 L1756.1,1159.4 L1758.1,1158.4 L1760.1,1159.4 L1762.1,1159.4 L1764.2,1159.4 L1766.2,1159.4 L1768.2,1159.4 L1770.2,1159.4 L1772.2,1159.4 L1774.3,1159.4 L1776.3,1159.4 L1778.3,1159.4 L1780.3,1160.4 L1782.4,1159.4 L1784.4,1159.4 L1786.4,1159.4" stroke="#ff9466" stroke-width="5.2"/>
</g>
<rect x="649.5" y="1146" width="45" height="11.6" fill="#fff"/>
<text transform="translate(404.33,1314.00)" font-family="'Liberation Serif', serif" font-weight="bold" font-size="71" letter-spacing="-2.0" fill="#000" xml:space="preserve">800</text>
<text transform="translate(682.89,1314.00)" font-family="'Liberation Serif', serif" font-weight="bold" font-size="71" letter-spacing="-2.0" fill="#000" xml:space="preserve">1000</text>
<text transform="translate(978.89,1314.00)" font-family="'Liberation Serif', serif" font-weight="bold" font-size="71" letter-spacing="-2.0" fill="#000" xml:space="preserve">1200</text>
<text transform="translate(1275.84,1314.00)" font-family="'Liberation Serif', serif" font-weight="bold" font-size="71" letter-spacing="-2.0" fill="#000" xml:space="preserve">1400</text>
<text transform="translate(1572.29,1314.00)" font-family="'Liberation Serif', serif" font-weight="bold" font-size="71" letter-spacing="-2.0" fill="#000" xml:space="preserve">1600</text>
<text font-family="'Liberation Serif', serif" font-weight="bold" font-size="63" fill="#000" xml:space="preserve"><tspan x="577.06" y="501.20" letter-spacing="-1">10</tspan><tspan x="637.96" y="477.20" font-size="45" font-weight="normal" fill="#3a3a3a">-</tspan><tspan x="654.17" y="476.40" font-size="45.5">5</tspan><tspan x="676.38" y="501.20"> M</tspan></text>
<text font-family="'Liberation Serif', serif" font-weight="bold" font-size="63" fill="#000" xml:space="preserve"><tspan x="580.91" y="680.60" letter-spacing="-1">10</tspan><tspan x="641.76" y="657.10" font-size="45" font-weight="normal" fill="#3a3a3a">-</tspan><tspan x="656.06" y="656.30" font-size="45.5">6</tspan><tspan x="678.33" y="680.60"> M</tspan></text>
<text font-family="'Liberation Serif', serif" font-weight="bold" font-size="63" fill="#000" xml:space="preserve"><tspan x="583.11" y="837.60" letter-spacing="-1">10</tspan><tspan x="644.26" y="814.00" font-size="45" font-weight="normal" fill="#3a3a3a">-</tspan><tspan x="659.29" y="813.20" font-size="45.5">7</tspan><tspan x="681.93" y="837.60"> M</tspan></text>
<text font-family="'Liberation Serif', serif" font-weight="bold" font-size="63" fill="#000" xml:space="preserve"><tspan x="583.11" y="1027.60" letter-spacing="-1">10</tspan><tspan x="643.96" y="1003.30" font-size="45" font-weight="normal" fill="#3a3a3a">-</tspan><tspan x="657.77" y="1002.50" font-size="45.5">8</tspan><tspan x="680.23" y="1027.60"> M</tspan></text>
<text font-family="'Liberation Serif', serif" font-weight="bold" font-size="63" fill="#000" xml:space="preserve"><tspan x="584.86" y="1148.90" letter-spacing="-1">10</tspan><tspan x="645.21" y="1121.60" font-size="48" font-weight="normal" fill="#111">-</tspan><tspan x="661.88" y="1120.80" font-size="49">9</tspan><tspan x="681.68" y="1148.90">  M</tspan></text>
<text transform="translate(644.49,1452.80) scale(0.9526,1)" font-family="'Liberation Serif', serif" font-size="91.5" fill="#000" xml:space="preserve">Raman shift (cm<tspan x="610.00" y="-34.92" font-size="68">-</tspan><tspan x="637.64" y="-36.00" font-size="62">1</tspan><tspan x="664.27" y="0">)</tspan></text>
<text transform="translate(81.80,881.08) rotate(-90) scale(0.9557,1)" font-family="'Liberation Serif', serif" font-weight="normal" font-size="92" fill="#000" xml:space="preserve">Intensity (a.u.)</text>
</g>
</svg>
</body></html>
